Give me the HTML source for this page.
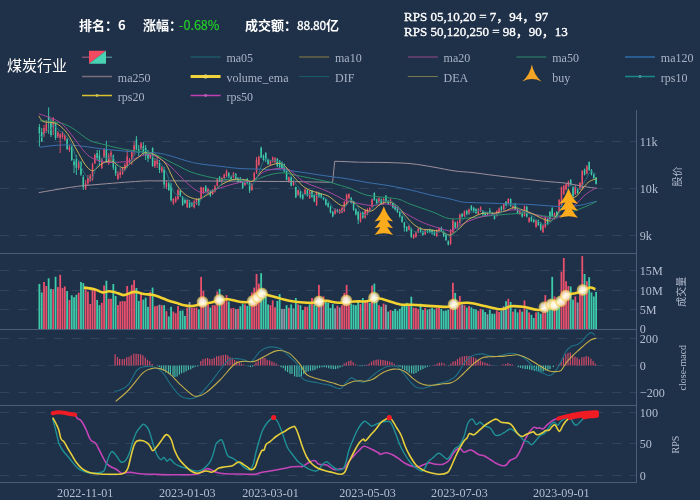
<!DOCTYPE html>
<html><head><meta charset="utf-8"><style>
html,body{margin:0;padding:0;background:#1f3049;width:700px;height:500px;overflow:hidden}
.t{position:absolute;white-space:nowrap;line-height:1;will-change:transform}
svg{will-change:transform}
.cj{font-family:"Noto Sans CJK SC",sans-serif}
.sf{font-family:"Liberation Serif","Noto Sans CJK SC",serif}
</style></head><body>
<svg width="700" height="500" viewBox="0 0 700 500" style="position:absolute;left:0;top:0">
<rect x="0" y="0" width="700" height="500" fill="#1f3049"/>
<line x1="0" y1="141.5" x2="636" y2="141.5" stroke="#30435f" stroke-width="1" stroke-dasharray="9 9"/>
<line x1="0" y1="188.5" x2="636" y2="188.5" stroke="#30435f" stroke-width="1" stroke-dasharray="9 9"/>
<line x1="0" y1="235.5" x2="636" y2="235.5" stroke="#30435f" stroke-width="1" stroke-dasharray="9 9"/>
<line x1="0" y1="270.5" x2="636" y2="270.5" stroke="#30435f" stroke-width="1" stroke-dasharray="9 9"/>
<line x1="0" y1="290.5" x2="636" y2="290.5" stroke="#30435f" stroke-width="1" stroke-dasharray="9 9"/>
<line x1="0" y1="309.5" x2="636" y2="309.5" stroke="#30435f" stroke-width="1" stroke-dasharray="9 9"/>
<line x1="0" y1="338.5" x2="636" y2="338.5" stroke="#30435f" stroke-width="1" stroke-dasharray="9 9"/>
<line x1="0" y1="365.5" x2="636" y2="365.5" stroke="#30435f" stroke-width="1" stroke-dasharray="9 9"/>
<line x1="0" y1="392.5" x2="636" y2="392.5" stroke="#30435f" stroke-width="1" stroke-dasharray="9 9"/>
<line x1="0" y1="412.5" x2="636" y2="412.5" stroke="#30435f" stroke-width="1" stroke-dasharray="9 9"/>
<line x1="0" y1="443.5" x2="636" y2="443.5" stroke="#30435f" stroke-width="1" stroke-dasharray="9 9"/>
<line x1="0" y1="475.5" x2="636" y2="475.5" stroke="#30435f" stroke-width="1" stroke-dasharray="9 9"/>
<line x1="0" y1="253.5" x2="637" y2="253.5" stroke="#4b5d79" stroke-width="1"/>
<line x1="0" y1="329.5" x2="637" y2="329.5" stroke="#4b5d79" stroke-width="1"/>
<line x1="0" y1="405.5" x2="637" y2="405.5" stroke="#4b5d79" stroke-width="1"/>
<line x1="0" y1="482.5" x2="637" y2="482.5" stroke="#4b5d79" stroke-width="1"/>
<line x1="636.5" y1="110" x2="636.5" y2="483" stroke="#4b5d79" stroke-width="1"/>

<defs><radialGradient id="glow"><stop offset="0" stop-color="#ffffff" stop-opacity="0.95"/><stop offset="0.55" stop-color="#fff6d8" stop-opacity="0.85"/><stop offset="0.85" stop-color="#f7d35a" stop-opacity="0.7"/><stop offset="1" stop-color="#f2c232" stop-opacity="0.15"/></radialGradient></defs>
<rect x="38.50" y="283.9" width="1.8" height="45.1" fill="#3ecbaa"/>
<rect x="40.81" y="292.4" width="1.8" height="36.6" fill="#3ecbaa"/>
<rect x="43.12" y="282.0" width="1.8" height="47.0" fill="#e9506c"/>
<rect x="45.43" y="286.0" width="1.8" height="43.0" fill="#e9506c"/>
<rect x="47.74" y="278.3" width="1.8" height="50.7" fill="#3ecbaa"/>
<rect x="50.05" y="288.9" width="1.8" height="40.1" fill="#3ecbaa"/>
<rect x="52.36" y="289.2" width="1.8" height="39.8" fill="#e9506c"/>
<rect x="54.67" y="276.7" width="1.8" height="52.3" fill="#3ecbaa"/>
<rect x="56.98" y="287.1" width="1.8" height="41.9" fill="#e9506c"/>
<rect x="59.29" y="274.8" width="1.8" height="54.2" fill="#e9506c"/>
<rect x="61.60" y="287.9" width="1.8" height="41.1" fill="#e9506c"/>
<rect x="63.91" y="286.5" width="1.8" height="42.5" fill="#e9506c"/>
<rect x="66.22" y="291.1" width="1.8" height="37.9" fill="#3ecbaa"/>
<rect x="68.53" y="300.1" width="1.8" height="28.9" fill="#e9506c"/>
<rect x="70.84" y="295.3" width="1.8" height="33.7" fill="#3ecbaa"/>
<rect x="73.15" y="297.2" width="1.8" height="31.8" fill="#3ecbaa"/>
<rect x="75.46" y="294.8" width="1.8" height="34.2" fill="#3ecbaa"/>
<rect x="77.77" y="292.7" width="1.8" height="36.3" fill="#e9506c"/>
<rect x="80.08" y="282.0" width="1.8" height="47.0" fill="#3ecbaa"/>
<rect x="82.39" y="283.1" width="1.8" height="45.9" fill="#3ecbaa"/>
<rect x="84.70" y="289.2" width="1.8" height="39.8" fill="#e9506c"/>
<rect x="87.01" y="291.6" width="1.8" height="37.4" fill="#e9506c"/>
<rect x="89.32" y="304.0" width="1.8" height="25.0" fill="#e9506c"/>
<rect x="91.63" y="290.0" width="1.8" height="39.0" fill="#e9506c"/>
<rect x="93.94" y="290.0" width="1.8" height="39.0" fill="#e9506c"/>
<rect x="96.25" y="300.0" width="1.8" height="29.0" fill="#3ecbaa"/>
<rect x="98.56" y="305.2" width="1.8" height="23.8" fill="#3ecbaa"/>
<rect x="100.87" y="302.8" width="1.8" height="26.2" fill="#e9506c"/>
<rect x="103.18" y="285.5" width="1.8" height="43.5" fill="#e9506c"/>
<rect x="105.49" y="280.7" width="1.8" height="48.3" fill="#3ecbaa"/>
<rect x="107.80" y="298.8" width="1.8" height="30.2" fill="#e9506c"/>
<rect x="110.11" y="298.8" width="1.8" height="30.2" fill="#e9506c"/>
<rect x="112.42" y="284.0" width="1.8" height="45.0" fill="#3ecbaa"/>
<rect x="114.73" y="296.0" width="1.8" height="33.0" fill="#3ecbaa"/>
<rect x="117.04" y="305.0" width="1.8" height="24.0" fill="#e9506c"/>
<rect x="119.35" y="301.5" width="1.8" height="27.5" fill="#e9506c"/>
<rect x="121.66" y="300.9" width="1.8" height="28.1" fill="#e9506c"/>
<rect x="123.97" y="301.2" width="1.8" height="27.8" fill="#e9506c"/>
<rect x="126.28" y="286.0" width="1.8" height="43.0" fill="#e9506c"/>
<rect x="128.59" y="293.2" width="1.8" height="35.8" fill="#e9506c"/>
<rect x="130.90" y="284.9" width="1.8" height="44.1" fill="#e9506c"/>
<rect x="133.21" y="280.1" width="1.8" height="48.9" fill="#e9506c"/>
<rect x="135.52" y="288.0" width="1.8" height="41.0" fill="#3ecbaa"/>
<rect x="137.83" y="300.9" width="1.8" height="28.1" fill="#3ecbaa"/>
<rect x="140.14" y="294.0" width="1.8" height="35.0" fill="#e9506c"/>
<rect x="142.45" y="299.6" width="1.8" height="29.4" fill="#3ecbaa"/>
<rect x="144.76" y="297.7" width="1.8" height="31.3" fill="#3ecbaa"/>
<rect x="147.07" y="306.8" width="1.8" height="22.2" fill="#3ecbaa"/>
<rect x="149.38" y="291.9" width="1.8" height="37.1" fill="#e9506c"/>
<rect x="151.69" y="287.6" width="1.8" height="41.4" fill="#3ecbaa"/>
<rect x="154.00" y="306.3" width="1.8" height="22.7" fill="#e9506c"/>
<rect x="156.31" y="305.7" width="1.8" height="23.3" fill="#e9506c"/>
<rect x="158.62" y="304.7" width="1.8" height="24.3" fill="#8e9aa8"/>
<rect x="160.93" y="305.2" width="1.8" height="23.8" fill="#e9506c"/>
<rect x="163.24" y="305.2" width="1.8" height="23.8" fill="#3ecbaa"/>
<rect x="165.55" y="311.1" width="1.8" height="17.9" fill="#e9506c"/>
<rect x="167.86" y="316.4" width="1.8" height="12.6" fill="#3ecbaa"/>
<rect x="170.17" y="306.8" width="1.8" height="22.2" fill="#3ecbaa"/>
<rect x="172.48" y="311.6" width="1.8" height="17.4" fill="#e9506c"/>
<rect x="174.79" y="313.2" width="1.8" height="15.8" fill="#e9506c"/>
<rect x="177.10" y="306.0" width="1.8" height="23.0" fill="#e9506c"/>
<rect x="179.41" y="310.8" width="1.8" height="18.2" fill="#3ecbaa"/>
<rect x="181.72" y="310.5" width="1.8" height="18.5" fill="#3ecbaa"/>
<rect x="184.03" y="315.9" width="1.8" height="13.1" fill="#3ecbaa"/>
<rect x="186.34" y="307.6" width="1.8" height="21.4" fill="#e9506c"/>
<rect x="188.65" y="302.0" width="1.8" height="27.0" fill="#8e9aa8"/>
<rect x="190.96" y="307.6" width="1.8" height="21.4" fill="#e9506c"/>
<rect x="193.27" y="307.6" width="1.8" height="21.4" fill="#e9506c"/>
<rect x="195.58" y="307.6" width="1.8" height="21.4" fill="#e9506c"/>
<rect x="197.89" y="309.5" width="1.8" height="19.5" fill="#3ecbaa"/>
<rect x="200.20" y="276.9" width="1.8" height="52.1" fill="#e9506c"/>
<rect x="202.51" y="290.8" width="1.8" height="38.2" fill="#e9506c"/>
<rect x="204.82" y="301.2" width="1.8" height="27.8" fill="#8e9aa8"/>
<rect x="207.13" y="302.8" width="1.8" height="26.2" fill="#e9506c"/>
<rect x="209.44" y="307.6" width="1.8" height="21.4" fill="#3ecbaa"/>
<rect x="211.75" y="305.2" width="1.8" height="23.8" fill="#e9506c"/>
<rect x="214.06" y="305.2" width="1.8" height="23.8" fill="#e9506c"/>
<rect x="216.37" y="291.6" width="1.8" height="37.4" fill="#e9506c"/>
<rect x="218.68" y="288.9" width="1.8" height="40.1" fill="#3ecbaa"/>
<rect x="220.99" y="302.8" width="1.8" height="26.2" fill="#e9506c"/>
<rect x="223.30" y="300.9" width="1.8" height="28.1" fill="#e9506c"/>
<rect x="225.61" y="295.1" width="1.8" height="33.9" fill="#e9506c"/>
<rect x="227.92" y="301.5" width="1.8" height="27.5" fill="#3ecbaa"/>
<rect x="230.23" y="308.4" width="1.8" height="20.6" fill="#e9506c"/>
<rect x="232.54" y="307.9" width="1.8" height="21.1" fill="#e9506c"/>
<rect x="234.85" y="309.2" width="1.8" height="19.8" fill="#8e9aa8"/>
<rect x="237.16" y="308.9" width="1.8" height="20.1" fill="#e9506c"/>
<rect x="239.47" y="306.3" width="1.8" height="22.7" fill="#3ecbaa"/>
<rect x="241.78" y="304.1" width="1.8" height="24.9" fill="#3ecbaa"/>
<rect x="244.09" y="304.4" width="1.8" height="24.6" fill="#e9506c"/>
<rect x="246.40" y="306.0" width="1.8" height="23.0" fill="#3ecbaa"/>
<rect x="248.71" y="304.4" width="1.8" height="24.6" fill="#3ecbaa"/>
<rect x="251.02" y="292.4" width="1.8" height="36.6" fill="#e9506c"/>
<rect x="253.33" y="287.6" width="1.8" height="41.4" fill="#e9506c"/>
<rect x="255.64" y="274.0" width="1.8" height="55.0" fill="#e9506c"/>
<rect x="257.95" y="283.6" width="1.8" height="45.4" fill="#e9506c"/>
<rect x="260.26" y="273.2" width="1.8" height="55.8" fill="#3ecbaa"/>
<rect x="262.57" y="296.4" width="1.8" height="32.6" fill="#3ecbaa"/>
<rect x="264.88" y="296.4" width="1.8" height="32.6" fill="#3ecbaa"/>
<rect x="267.19" y="304.4" width="1.8" height="24.6" fill="#3ecbaa"/>
<rect x="269.50" y="305.2" width="1.8" height="23.8" fill="#e9506c"/>
<rect x="271.81" y="300.4" width="1.8" height="28.6" fill="#e9506c"/>
<rect x="274.12" y="307.3" width="1.8" height="21.7" fill="#e9506c"/>
<rect x="276.43" y="300.9" width="1.8" height="28.1" fill="#3ecbaa"/>
<rect x="278.74" y="294.0" width="1.8" height="35.0" fill="#3ecbaa"/>
<rect x="281.05" y="308.9" width="1.8" height="20.1" fill="#8e9aa8"/>
<rect x="283.36" y="308.9" width="1.8" height="20.1" fill="#8e9aa8"/>
<rect x="285.67" y="305.2" width="1.8" height="23.8" fill="#3ecbaa"/>
<rect x="287.98" y="307.9" width="1.8" height="21.1" fill="#e9506c"/>
<rect x="290.29" y="304.4" width="1.8" height="24.6" fill="#3ecbaa"/>
<rect x="292.60" y="308.4" width="1.8" height="20.6" fill="#8e9aa8"/>
<rect x="294.91" y="298.0" width="1.8" height="31.0" fill="#3ecbaa"/>
<rect x="297.22" y="304.4" width="1.8" height="24.6" fill="#e9506c"/>
<rect x="299.53" y="305.2" width="1.8" height="23.8" fill="#3ecbaa"/>
<rect x="301.84" y="310.0" width="1.8" height="19.0" fill="#3ecbaa"/>
<rect x="304.15" y="306.8" width="1.8" height="22.2" fill="#e9506c"/>
<rect x="306.46" y="306.8" width="1.8" height="22.2" fill="#e9506c"/>
<rect x="308.77" y="304.4" width="1.8" height="24.6" fill="#3ecbaa"/>
<rect x="311.08" y="298.0" width="1.8" height="31.0" fill="#e9506c"/>
<rect x="313.39" y="304.4" width="1.8" height="24.6" fill="#3ecbaa"/>
<rect x="315.70" y="306.8" width="1.8" height="22.2" fill="#3ecbaa"/>
<rect x="318.01" y="284.9" width="1.8" height="44.1" fill="#e9506c"/>
<rect x="320.32" y="301.2" width="1.8" height="27.8" fill="#8e9aa8"/>
<rect x="322.63" y="296.4" width="1.8" height="32.6" fill="#e9506c"/>
<rect x="324.94" y="302.0" width="1.8" height="27.0" fill="#3ecbaa"/>
<rect x="327.25" y="302.8" width="1.8" height="26.2" fill="#3ecbaa"/>
<rect x="329.56" y="307.9" width="1.8" height="21.1" fill="#3ecbaa"/>
<rect x="331.87" y="304.1" width="1.8" height="24.9" fill="#3ecbaa"/>
<rect x="334.18" y="308.4" width="1.8" height="20.6" fill="#8e9aa8"/>
<rect x="336.49" y="305.7" width="1.8" height="23.3" fill="#e9506c"/>
<rect x="338.80" y="307.5" width="1.8" height="21.5" fill="#8e9aa8"/>
<rect x="341.11" y="305.2" width="1.8" height="23.8" fill="#e9506c"/>
<rect x="343.42" y="292.9" width="1.8" height="36.1" fill="#e9506c"/>
<rect x="345.73" y="284.9" width="1.8" height="44.1" fill="#e9506c"/>
<rect x="348.04" y="301.2" width="1.8" height="27.8" fill="#e9506c"/>
<rect x="350.35" y="303.6" width="1.8" height="25.4" fill="#3ecbaa"/>
<rect x="352.66" y="304.7" width="1.8" height="24.3" fill="#3ecbaa"/>
<rect x="354.97" y="305.2" width="1.8" height="23.8" fill="#3ecbaa"/>
<rect x="357.28" y="302.0" width="1.8" height="27.0" fill="#3ecbaa"/>
<rect x="359.59" y="304.1" width="1.8" height="24.9" fill="#e9506c"/>
<rect x="361.90" y="298.0" width="1.8" height="31.0" fill="#3ecbaa"/>
<rect x="364.21" y="302.0" width="1.8" height="27.0" fill="#e9506c"/>
<rect x="366.52" y="301.5" width="1.8" height="27.5" fill="#e9506c"/>
<rect x="368.83" y="302.8" width="1.8" height="26.2" fill="#3ecbaa"/>
<rect x="371.14" y="285.5" width="1.8" height="43.5" fill="#e9506c"/>
<rect x="373.45" y="283.6" width="1.8" height="45.4" fill="#3ecbaa"/>
<rect x="375.76" y="301.2" width="1.8" height="27.8" fill="#3ecbaa"/>
<rect x="378.07" y="305.2" width="1.8" height="23.8" fill="#e9506c"/>
<rect x="380.38" y="306.8" width="1.8" height="22.2" fill="#3ecbaa"/>
<rect x="382.69" y="303.6" width="1.8" height="25.4" fill="#e9506c"/>
<rect x="385.00" y="304.7" width="1.8" height="24.3" fill="#8e9aa8"/>
<rect x="387.31" y="311.6" width="1.8" height="17.4" fill="#3ecbaa"/>
<rect x="389.62" y="310.0" width="1.8" height="19.0" fill="#e9506c"/>
<rect x="391.93" y="310.8" width="1.8" height="18.2" fill="#3ecbaa"/>
<rect x="394.24" y="308.9" width="1.8" height="20.1" fill="#3ecbaa"/>
<rect x="396.55" y="310.8" width="1.8" height="18.2" fill="#3ecbaa"/>
<rect x="398.86" y="308.9" width="1.8" height="20.1" fill="#3ecbaa"/>
<rect x="401.17" y="306.3" width="1.8" height="22.7" fill="#3ecbaa"/>
<rect x="403.48" y="306.0" width="1.8" height="23.0" fill="#3ecbaa"/>
<rect x="405.79" y="302.8" width="1.8" height="26.2" fill="#3ecbaa"/>
<rect x="408.10" y="306.0" width="1.8" height="23.0" fill="#e9506c"/>
<rect x="410.41" y="296.7" width="1.8" height="32.3" fill="#3ecbaa"/>
<rect x="412.72" y="307.6" width="1.8" height="21.4" fill="#e9506c"/>
<rect x="415.03" y="307.9" width="1.8" height="21.1" fill="#e9506c"/>
<rect x="417.34" y="309.2" width="1.8" height="19.8" fill="#e9506c"/>
<rect x="419.65" y="303.6" width="1.8" height="25.4" fill="#3ecbaa"/>
<rect x="421.96" y="310.0" width="1.8" height="19.0" fill="#3ecbaa"/>
<rect x="424.27" y="307.9" width="1.8" height="21.1" fill="#e9506c"/>
<rect x="426.58" y="309.5" width="1.8" height="19.5" fill="#3ecbaa"/>
<rect x="428.89" y="308.9" width="1.8" height="20.1" fill="#8e9aa8"/>
<rect x="431.20" y="307.9" width="1.8" height="21.1" fill="#3ecbaa"/>
<rect x="433.51" y="309.5" width="1.8" height="19.5" fill="#3ecbaa"/>
<rect x="435.82" y="307.9" width="1.8" height="21.1" fill="#e9506c"/>
<rect x="438.13" y="307.9" width="1.8" height="21.1" fill="#e9506c"/>
<rect x="440.44" y="308.9" width="1.8" height="20.1" fill="#3ecbaa"/>
<rect x="442.75" y="310.8" width="1.8" height="18.2" fill="#3ecbaa"/>
<rect x="445.06" y="310.5" width="1.8" height="18.5" fill="#3ecbaa"/>
<rect x="447.37" y="309.5" width="1.8" height="19.5" fill="#3ecbaa"/>
<rect x="449.68" y="307.6" width="1.8" height="21.4" fill="#e9506c"/>
<rect x="451.99" y="282.8" width="1.8" height="46.2" fill="#e9506c"/>
<rect x="454.30" y="292.9" width="1.8" height="36.1" fill="#3ecbaa"/>
<rect x="456.61" y="305.2" width="1.8" height="23.8" fill="#e9506c"/>
<rect x="458.92" y="296.0" width="1.8" height="33.0" fill="#e9506c"/>
<rect x="461.23" y="304.4" width="1.8" height="24.6" fill="#8e9aa8"/>
<rect x="463.54" y="305.2" width="1.8" height="23.8" fill="#e9506c"/>
<rect x="465.85" y="307.6" width="1.8" height="21.4" fill="#3ecbaa"/>
<rect x="468.16" y="306.0" width="1.8" height="23.0" fill="#e9506c"/>
<rect x="470.47" y="307.3" width="1.8" height="21.7" fill="#3ecbaa"/>
<rect x="472.78" y="308.9" width="1.8" height="20.1" fill="#3ecbaa"/>
<rect x="475.09" y="309.5" width="1.8" height="19.5" fill="#3ecbaa"/>
<rect x="477.40" y="310.8" width="1.8" height="18.2" fill="#e9506c"/>
<rect x="479.71" y="308.9" width="1.8" height="20.1" fill="#e9506c"/>
<rect x="482.02" y="309.5" width="1.8" height="19.5" fill="#3ecbaa"/>
<rect x="484.33" y="312.1" width="1.8" height="16.9" fill="#3ecbaa"/>
<rect x="486.64" y="314.3" width="1.8" height="14.7" fill="#8e9aa8"/>
<rect x="488.95" y="310.0" width="1.8" height="19.0" fill="#3ecbaa"/>
<rect x="491.26" y="313.7" width="1.8" height="15.3" fill="#3ecbaa"/>
<rect x="493.57" y="313.7" width="1.8" height="15.3" fill="#3ecbaa"/>
<rect x="495.88" y="310.5" width="1.8" height="18.5" fill="#e9506c"/>
<rect x="498.19" y="312.1" width="1.8" height="16.9" fill="#e9506c"/>
<rect x="500.50" y="310.8" width="1.8" height="18.2" fill="#3ecbaa"/>
<rect x="502.81" y="306.3" width="1.8" height="22.7" fill="#8e9aa8"/>
<rect x="505.12" y="301.2" width="1.8" height="27.8" fill="#3ecbaa"/>
<rect x="507.43" y="298.8" width="1.8" height="30.2" fill="#e9506c"/>
<rect x="509.74" y="302.0" width="1.8" height="27.0" fill="#3ecbaa"/>
<rect x="512.05" y="311.6" width="1.8" height="17.4" fill="#e9506c"/>
<rect x="514.36" y="309.2" width="1.8" height="19.8" fill="#3ecbaa"/>
<rect x="516.67" y="312.4" width="1.8" height="16.6" fill="#3ecbaa"/>
<rect x="518.98" y="309.5" width="1.8" height="19.5" fill="#e9506c"/>
<rect x="521.29" y="311.6" width="1.8" height="17.4" fill="#3ecbaa"/>
<rect x="523.60" y="300.4" width="1.8" height="28.6" fill="#e9506c"/>
<rect x="525.91" y="309.5" width="1.8" height="19.5" fill="#3ecbaa"/>
<rect x="528.22" y="312.4" width="1.8" height="16.6" fill="#e9506c"/>
<rect x="530.53" y="314.8" width="1.8" height="14.2" fill="#3ecbaa"/>
<rect x="532.84" y="318.0" width="1.8" height="11.0" fill="#3ecbaa"/>
<rect x="535.15" y="312.4" width="1.8" height="16.6" fill="#e9506c"/>
<rect x="537.46" y="312.1" width="1.8" height="16.9" fill="#3ecbaa"/>
<rect x="539.77" y="313.7" width="1.8" height="15.3" fill="#3ecbaa"/>
<rect x="542.08" y="312.4" width="1.8" height="16.6" fill="#e9506c"/>
<rect x="544.39" y="295.1" width="1.8" height="33.9" fill="#e9506c"/>
<rect x="546.70" y="309.5" width="1.8" height="19.5" fill="#3ecbaa"/>
<rect x="549.01" y="305.2" width="1.8" height="23.8" fill="#3ecbaa"/>
<rect x="551.32" y="276.9" width="1.8" height="52.1" fill="#3ecbaa"/>
<rect x="553.63" y="296.4" width="1.8" height="32.6" fill="#e9506c"/>
<rect x="555.94" y="306.0" width="1.8" height="23.0" fill="#3ecbaa"/>
<rect x="558.25" y="302.8" width="1.8" height="26.2" fill="#3ecbaa"/>
<rect x="560.56" y="271.6" width="1.8" height="57.4" fill="#e9506c"/>
<rect x="562.87" y="258.0" width="1.8" height="71.0" fill="#e9506c"/>
<rect x="565.18" y="281.2" width="1.8" height="47.8" fill="#e9506c"/>
<rect x="567.49" y="286.0" width="1.8" height="43.0" fill="#e9506c"/>
<rect x="569.80" y="286.5" width="1.8" height="42.5" fill="#3ecbaa"/>
<rect x="572.11" y="299.6" width="1.8" height="29.4" fill="#3ecbaa"/>
<rect x="574.42" y="296.4" width="1.8" height="32.6" fill="#e9506c"/>
<rect x="576.73" y="302.5" width="1.8" height="26.5" fill="#8e9aa8"/>
<rect x="579.04" y="292.4" width="1.8" height="36.6" fill="#e9506c"/>
<rect x="581.35" y="256.1" width="1.8" height="72.9" fill="#e9506c"/>
<rect x="583.66" y="274.0" width="1.8" height="55.0" fill="#3ecbaa"/>
<rect x="585.97" y="281.2" width="1.8" height="47.8" fill="#e9506c"/>
<rect x="588.28" y="277.2" width="1.8" height="51.8" fill="#3ecbaa"/>
<rect x="590.59" y="292.4" width="1.8" height="36.6" fill="#3ecbaa"/>
<rect x="592.90" y="296.4" width="1.8" height="32.6" fill="#3ecbaa"/>
<rect x="595.21" y="291.9" width="1.8" height="37.1" fill="#3ecbaa"/>
<path d="M84.00,287.60 C85.87,287.89 91.09,288.34 94.40,289.20 C97.71,290.06 99.81,292.02 102.40,292.40 C104.99,292.78 106.78,291.37 108.80,291.30 C110.82,291.23 111.94,291.66 113.60,292.00 C115.26,292.34 116.13,292.64 118.00,293.20 C119.87,293.76 121.84,295.14 124.00,295.10 C126.16,295.06 127.98,293.58 130.00,293.00 C132.02,292.42 132.68,291.72 135.20,291.90 C137.72,292.08 140.98,293.48 144.00,294.00 C147.02,294.52 149.12,294.22 152.00,294.80 C154.88,295.38 157.12,296.19 160.00,297.20 C162.88,298.21 165.12,299.39 168.00,300.40 C170.88,301.41 173.12,301.94 176.00,302.80 C178.88,303.66 181.12,304.62 184.00,305.20 C186.88,305.78 189.12,306.14 192.00,306.00 C194.88,305.86 196.83,304.98 200.00,304.40 C203.17,303.82 206.25,303.52 209.60,302.80 C212.95,302.08 215.25,301.03 218.60,300.40 C221.95,299.77 224.17,299.01 228.20,299.30 C232.23,299.59 236.72,301.66 241.00,302.00 C245.28,302.34 248.15,302.78 252.00,301.20 C255.85,299.62 259.81,294.35 262.40,293.20 C264.99,292.05 263.95,294.08 266.40,294.80 C268.85,295.52 272.83,296.34 276.00,297.20 C279.17,298.06 281.12,298.88 284.00,299.60 C286.88,300.32 288.54,300.68 292.00,301.20 C295.46,301.72 299.46,302.21 303.20,302.50 C306.94,302.79 309.78,303.03 312.80,302.80 C315.82,302.57 317.44,301.54 320.00,301.20 C322.56,300.86 323.58,300.61 327.00,300.90 C330.42,301.19 334.14,302.69 339.00,302.80 C343.86,302.91 349.00,301.79 354.00,301.50 C359.00,301.21 363.20,301.69 366.80,301.20 C370.40,300.71 371.44,299.23 374.00,298.80 C376.56,298.37 376.28,297.79 381.00,298.80 C385.72,299.81 395.02,303.34 400.20,304.40 C405.38,305.46 405.34,304.48 409.80,304.70 C414.26,304.92 418.12,305.22 425.00,305.60 C431.88,305.98 442.42,307.07 448.00,306.80 C453.58,306.53 452.40,304.82 456.00,304.10 C459.60,303.38 463.14,302.51 468.00,302.80 C472.86,303.09 477.42,304.55 483.00,305.70 C488.58,306.85 494.97,308.71 499.00,309.20 C503.03,309.69 503.24,308.94 505.40,308.40 C507.56,307.86 507.87,306.49 511.00,306.20 C514.13,305.91 517.80,306.12 522.80,306.80 C527.80,307.48 534.77,309.86 538.80,310.00 C542.83,310.14 542.46,308.39 545.20,307.60 C547.94,306.81 551.16,307.04 554.00,305.60 C556.84,304.16 558.59,301.54 561.00,299.60 C563.41,297.66 564.81,295.95 567.40,294.80 C569.99,293.65 572.52,293.92 575.40,293.20 C578.28,292.48 580.81,291.81 583.40,290.80 C585.99,289.79 587.64,287.89 589.80,287.60 C591.96,287.31 594.39,288.91 595.40,289.20" fill="none" stroke="#f2d230" stroke-width="2.6" stroke-linejoin="round"/>
<circle cx="202.5" cy="302" r="6.2" fill="url(#glow)"/>
<circle cx="219.4" cy="300" r="6.2" fill="url(#glow)"/>
<circle cx="252.8" cy="301" r="6.2" fill="url(#glow)"/>
<circle cx="257.6" cy="297.5" r="6.2" fill="url(#glow)"/>
<circle cx="262" cy="293.5" r="6.2" fill="url(#glow)"/>
<circle cx="319" cy="301.5" r="6.2" fill="url(#glow)"/>
<circle cx="346.3" cy="300.4" r="6.2" fill="url(#glow)"/>
<circle cx="374" cy="297.7" r="6.2" fill="url(#glow)"/>
<circle cx="453.6" cy="304.4" r="6.2" fill="url(#glow)"/>
<circle cx="544.4" cy="307.3" r="6.2" fill="url(#glow)"/>
<circle cx="551.3" cy="304.4" r="6.2" fill="url(#glow)"/>
<circle cx="554.6" cy="305.2" r="6.2" fill="url(#glow)"/>
<circle cx="561" cy="301.2" r="6.2" fill="url(#glow)"/>
<circle cx="565.8" cy="295.6" r="6.2" fill="url(#glow)"/>
<circle cx="582.6" cy="290" r="6.2" fill="url(#glow)"/>
<line x1="39.40" y1="124.0" x2="39.40" y2="146.5" stroke="#3ecbaa" stroke-width="0.9"/>
<rect x="38.65" y="127.0" width="1.5" height="6.5" fill="#3ecbaa"/>
<line x1="41.71" y1="128.0" x2="41.71" y2="142.0" stroke="#3ecbaa" stroke-width="0.9"/>
<rect x="40.96" y="132.0" width="1.5" height="9.0" fill="#3ecbaa"/>
<line x1="44.02" y1="125.0" x2="44.02" y2="137.0" stroke="#e9506c" stroke-width="0.9"/>
<rect x="43.27" y="128.0" width="1.5" height="7.0" fill="#e9506c"/>
<line x1="46.33" y1="120.0" x2="46.33" y2="133.0" stroke="#e9506c" stroke-width="0.9"/>
<rect x="45.58" y="124.0" width="1.5" height="7.0" fill="#e9506c"/>
<line x1="48.64" y1="107.4" x2="48.64" y2="133.8" stroke="#3ecbaa" stroke-width="0.9"/>
<rect x="47.89" y="116.0" width="1.5" height="4.0" fill="#3ecbaa"/>
<line x1="50.95" y1="119.0" x2="50.95" y2="137.0" stroke="#3ecbaa" stroke-width="0.9"/>
<rect x="50.20" y="121.0" width="1.5" height="14.0" fill="#3ecbaa"/>
<line x1="53.26" y1="117.0" x2="53.26" y2="135.0" stroke="#e9506c" stroke-width="0.9"/>
<rect x="52.51" y="118.0" width="1.5" height="9.0" fill="#e9506c"/>
<line x1="55.57" y1="122.0" x2="55.57" y2="140.0" stroke="#3ecbaa" stroke-width="0.9"/>
<rect x="54.82" y="123.0" width="1.5" height="15.0" fill="#3ecbaa"/>
<line x1="57.88" y1="131.0" x2="57.88" y2="138.0" stroke="#e9506c" stroke-width="0.9"/>
<rect x="57.13" y="132.5" width="1.5" height="4.0" fill="#e9506c"/>
<line x1="60.19" y1="133.0" x2="60.19" y2="153.0" stroke="#e9506c" stroke-width="0.9"/>
<rect x="59.44" y="134.5" width="1.5" height="3.5" fill="#e9506c"/>
<line x1="62.50" y1="132.0" x2="62.50" y2="139.0" stroke="#e9506c" stroke-width="0.9"/>
<rect x="61.75" y="133.5" width="1.5" height="3.5" fill="#e9506c"/>
<line x1="64.81" y1="134.0" x2="64.81" y2="141.0" stroke="#e9506c" stroke-width="0.9"/>
<rect x="64.06" y="135.5" width="1.5" height="4.0" fill="#e9506c"/>
<line x1="67.12" y1="138.0" x2="67.12" y2="150.0" stroke="#3ecbaa" stroke-width="0.9"/>
<rect x="66.37" y="139.3" width="1.5" height="9.7" fill="#3ecbaa"/>
<line x1="69.43" y1="145.0" x2="69.43" y2="152.0" stroke="#e9506c" stroke-width="0.9"/>
<rect x="68.68" y="147.0" width="1.5" height="3.0" fill="#e9506c"/>
<line x1="71.74" y1="146.0" x2="71.74" y2="161.0" stroke="#3ecbaa" stroke-width="0.9"/>
<rect x="70.99" y="146.4" width="1.5" height="13.6" fill="#3ecbaa"/>
<line x1="74.05" y1="158.8" x2="74.05" y2="173.0" stroke="#3ecbaa" stroke-width="0.9"/>
<rect x="73.30" y="161.4" width="1.5" height="3.9" fill="#3ecbaa"/>
<line x1="76.36" y1="155.0" x2="76.36" y2="175.0" stroke="#3ecbaa" stroke-width="0.9"/>
<rect x="75.61" y="159.4" width="1.5" height="8.5" fill="#3ecbaa"/>
<line x1="78.67" y1="160.0" x2="78.67" y2="170.0" stroke="#e9506c" stroke-width="0.9"/>
<rect x="77.92" y="162.7" width="1.5" height="5.2" fill="#e9506c"/>
<line x1="80.98" y1="161.0" x2="80.98" y2="176.0" stroke="#3ecbaa" stroke-width="0.9"/>
<rect x="80.23" y="162.7" width="1.5" height="11.7" fill="#3ecbaa"/>
<line x1="83.29" y1="175.0" x2="83.29" y2="190.0" stroke="#3ecbaa" stroke-width="0.9"/>
<rect x="82.54" y="177.0" width="1.5" height="10.3" fill="#3ecbaa"/>
<line x1="85.60" y1="180.0" x2="85.60" y2="190.0" stroke="#e9506c" stroke-width="0.9"/>
<rect x="84.85" y="183.4" width="1.5" height="5.2" fill="#e9506c"/>
<line x1="87.91" y1="175.0" x2="87.91" y2="186.0" stroke="#e9506c" stroke-width="0.9"/>
<rect x="87.16" y="178.0" width="1.5" height="5.4" fill="#e9506c"/>
<line x1="90.22" y1="174.0" x2="90.22" y2="182.0" stroke="#e9506c" stroke-width="0.9"/>
<rect x="89.47" y="175.6" width="1.5" height="5.2" fill="#e9506c"/>
<line x1="92.53" y1="162.7" x2="92.53" y2="180.8" stroke="#e9506c" stroke-width="0.9"/>
<rect x="91.78" y="164.0" width="1.5" height="15.5" fill="#e9506c"/>
<line x1="94.84" y1="153.6" x2="94.84" y2="164.0" stroke="#e9506c" stroke-width="0.9"/>
<rect x="94.09" y="154.9" width="1.5" height="8.4" fill="#e9506c"/>
<line x1="97.15" y1="150.0" x2="97.15" y2="160.0" stroke="#3ecbaa" stroke-width="0.9"/>
<rect x="96.40" y="153.0" width="1.5" height="5.0" fill="#3ecbaa"/>
<line x1="99.46" y1="150.0" x2="99.46" y2="165.0" stroke="#3ecbaa" stroke-width="0.9"/>
<rect x="98.71" y="155.5" width="1.5" height="6.5" fill="#3ecbaa"/>
<line x1="101.77" y1="158.0" x2="101.77" y2="169.0" stroke="#e9506c" stroke-width="0.9"/>
<rect x="101.02" y="159.4" width="1.5" height="8.5" fill="#e9506c"/>
<line x1="104.08" y1="148.0" x2="104.08" y2="158.0" stroke="#e9506c" stroke-width="0.9"/>
<rect x="103.33" y="149.7" width="1.5" height="7.8" fill="#e9506c"/>
<line x1="106.39" y1="140.7" x2="106.39" y2="162.8" stroke="#3ecbaa" stroke-width="0.9"/>
<rect x="105.64" y="149.0" width="1.5" height="13.0" fill="#3ecbaa"/>
<line x1="108.70" y1="153.0" x2="108.70" y2="165.0" stroke="#e9506c" stroke-width="0.9"/>
<rect x="107.95" y="155.7" width="1.5" height="7.8" fill="#e9506c"/>
<line x1="111.01" y1="150.0" x2="111.01" y2="160.0" stroke="#e9506c" stroke-width="0.9"/>
<rect x="110.26" y="152.4" width="1.5" height="4.6" fill="#e9506c"/>
<line x1="113.32" y1="154.4" x2="113.32" y2="170.0" stroke="#3ecbaa" stroke-width="0.9"/>
<rect x="112.57" y="155.7" width="1.5" height="11.7" fill="#3ecbaa"/>
<line x1="115.63" y1="165.0" x2="115.63" y2="176.0" stroke="#3ecbaa" stroke-width="0.9"/>
<rect x="114.88" y="166.7" width="1.5" height="7.1" fill="#3ecbaa"/>
<line x1="117.94" y1="171.0" x2="117.94" y2="180.0" stroke="#e9506c" stroke-width="0.9"/>
<rect x="117.19" y="173.8" width="1.5" height="5.2" fill="#e9506c"/>
<line x1="120.25" y1="168.0" x2="120.25" y2="178.0" stroke="#e9506c" stroke-width="0.9"/>
<rect x="119.50" y="172.0" width="1.5" height="3.0" fill="#e9506c"/>
<line x1="122.56" y1="167.0" x2="122.56" y2="175.0" stroke="#e9506c" stroke-width="0.9"/>
<rect x="121.81" y="168.6" width="1.5" height="5.2" fill="#e9506c"/>
<line x1="124.87" y1="163.0" x2="124.87" y2="171.0" stroke="#e9506c" stroke-width="0.9"/>
<rect x="124.12" y="164.8" width="1.5" height="5.2" fill="#e9506c"/>
<line x1="127.18" y1="150.0" x2="127.18" y2="168.0" stroke="#e9506c" stroke-width="0.9"/>
<rect x="126.43" y="156.3" width="1.5" height="9.7" fill="#e9506c"/>
<line x1="129.49" y1="158.0" x2="129.49" y2="165.0" stroke="#e9506c" stroke-width="0.9"/>
<rect x="128.74" y="159.6" width="1.5" height="3.9" fill="#e9506c"/>
<line x1="131.80" y1="150.0" x2="131.80" y2="165.0" stroke="#e9506c" stroke-width="0.9"/>
<rect x="131.05" y="151.8" width="1.5" height="7.8" fill="#e9506c"/>
<line x1="134.11" y1="141.4" x2="134.11" y2="155.7" stroke="#e9506c" stroke-width="0.9"/>
<rect x="133.36" y="145.3" width="1.5" height="6.5" fill="#e9506c"/>
<line x1="136.42" y1="136.0" x2="136.42" y2="150.0" stroke="#3ecbaa" stroke-width="0.9"/>
<rect x="135.67" y="139.4" width="1.5" height="9.8" fill="#3ecbaa"/>
<line x1="138.73" y1="145.0" x2="138.73" y2="156.0" stroke="#3ecbaa" stroke-width="0.9"/>
<rect x="137.98" y="149.2" width="1.5" height="3.8" fill="#3ecbaa"/>
<line x1="141.04" y1="142.0" x2="141.04" y2="150.0" stroke="#e9506c" stroke-width="0.9"/>
<rect x="140.29" y="143.3" width="1.5" height="5.9" fill="#e9506c"/>
<line x1="143.35" y1="142.0" x2="143.35" y2="155.0" stroke="#3ecbaa" stroke-width="0.9"/>
<rect x="142.60" y="146.0" width="1.5" height="6.0" fill="#3ecbaa"/>
<line x1="145.66" y1="145.0" x2="145.66" y2="160.0" stroke="#3ecbaa" stroke-width="0.9"/>
<rect x="144.91" y="148.0" width="1.5" height="7.8" fill="#3ecbaa"/>
<line x1="147.97" y1="150.0" x2="147.97" y2="162.0" stroke="#3ecbaa" stroke-width="0.9"/>
<rect x="147.22" y="153.2" width="1.5" height="5.2" fill="#3ecbaa"/>
<line x1="150.28" y1="152.0" x2="150.28" y2="159.0" stroke="#e9506c" stroke-width="0.9"/>
<rect x="149.53" y="153.2" width="1.5" height="4.5" fill="#e9506c"/>
<line x1="152.59" y1="147.3" x2="152.59" y2="166.8" stroke="#3ecbaa" stroke-width="0.9"/>
<rect x="151.84" y="148.0" width="1.5" height="18.0" fill="#3ecbaa"/>
<line x1="154.90" y1="158.0" x2="154.90" y2="168.0" stroke="#e9506c" stroke-width="0.9"/>
<rect x="154.15" y="161.0" width="1.5" height="5.2" fill="#e9506c"/>
<line x1="157.21" y1="157.0" x2="157.21" y2="168.0" stroke="#e9506c" stroke-width="0.9"/>
<rect x="156.46" y="159.7" width="1.5" height="4.5" fill="#e9506c"/>
<line x1="159.52" y1="160.0" x2="159.52" y2="173.0" stroke="#3ecbaa" stroke-width="0.9"/>
<rect x="158.77" y="163.0" width="1.5" height="7.0" fill="#3ecbaa"/>
<line x1="161.83" y1="166.0" x2="161.83" y2="173.0" stroke="#e9506c" stroke-width="0.9"/>
<rect x="161.08" y="167.5" width="1.5" height="3.9" fill="#e9506c"/>
<line x1="164.14" y1="167.0" x2="164.14" y2="188.0" stroke="#3ecbaa" stroke-width="0.9"/>
<rect x="163.39" y="169.4" width="1.5" height="15.0" fill="#3ecbaa"/>
<line x1="166.45" y1="181.0" x2="166.45" y2="189.0" stroke="#e9506c" stroke-width="0.9"/>
<rect x="165.70" y="183.0" width="1.5" height="4.0" fill="#e9506c"/>
<line x1="168.76" y1="182.0" x2="168.76" y2="191.0" stroke="#3ecbaa" stroke-width="0.9"/>
<rect x="168.01" y="183.4" width="1.5" height="6.6" fill="#3ecbaa"/>
<line x1="171.07" y1="183.0" x2="171.07" y2="201.6" stroke="#3ecbaa" stroke-width="0.9"/>
<rect x="170.32" y="184.7" width="1.5" height="15.6" fill="#3ecbaa"/>
<line x1="173.38" y1="198.0" x2="173.38" y2="205.0" stroke="#e9506c" stroke-width="0.9"/>
<rect x="172.63" y="199.0" width="1.5" height="4.5" fill="#e9506c"/>
<line x1="175.69" y1="196.0" x2="175.69" y2="203.0" stroke="#e9506c" stroke-width="0.9"/>
<rect x="174.94" y="197.7" width="1.5" height="3.9" fill="#e9506c"/>
<line x1="178.00" y1="189.2" x2="178.00" y2="200.3" stroke="#e9506c" stroke-width="0.9"/>
<rect x="177.25" y="190.0" width="1.5" height="9.0" fill="#e9506c"/>
<line x1="180.31" y1="190.0" x2="180.31" y2="197.0" stroke="#3ecbaa" stroke-width="0.9"/>
<rect x="179.56" y="191.0" width="1.5" height="4.7" fill="#3ecbaa"/>
<line x1="182.62" y1="196.0" x2="182.62" y2="206.0" stroke="#3ecbaa" stroke-width="0.9"/>
<rect x="181.87" y="197.0" width="1.5" height="7.8" fill="#3ecbaa"/>
<line x1="184.93" y1="199.0" x2="184.93" y2="204.0" stroke="#3ecbaa" stroke-width="0.9"/>
<rect x="184.18" y="200.0" width="1.5" height="3.0" fill="#3ecbaa"/>
<line x1="187.24" y1="199.0" x2="187.24" y2="208.0" stroke="#e9506c" stroke-width="0.9"/>
<rect x="186.49" y="200.0" width="1.5" height="7.4" fill="#e9506c"/>
<line x1="189.55" y1="200.0" x2="189.55" y2="208.0" stroke="#3ecbaa" stroke-width="0.9"/>
<rect x="188.80" y="201.5" width="1.5" height="5.9" fill="#3ecbaa"/>
<line x1="191.86" y1="202.0" x2="191.86" y2="207.0" stroke="#3ecbaa" stroke-width="0.9"/>
<rect x="191.11" y="203.0" width="1.5" height="2.5" fill="#3ecbaa"/>
<line x1="194.17" y1="200.0" x2="194.17" y2="208.5" stroke="#e9506c" stroke-width="0.9"/>
<rect x="193.42" y="201.5" width="1.5" height="5.9" fill="#e9506c"/>
<line x1="196.48" y1="198.0" x2="196.48" y2="205.0" stroke="#e9506c" stroke-width="0.9"/>
<rect x="195.73" y="199.0" width="1.5" height="5.0" fill="#e9506c"/>
<line x1="198.79" y1="198.0" x2="198.79" y2="206.0" stroke="#3ecbaa" stroke-width="0.9"/>
<rect x="198.04" y="199.0" width="1.5" height="5.8" fill="#3ecbaa"/>
<line x1="201.10" y1="186.6" x2="201.10" y2="199.6" stroke="#e9506c" stroke-width="0.9"/>
<rect x="200.35" y="187.3" width="1.5" height="11.7" fill="#e9506c"/>
<line x1="203.41" y1="187.0" x2="203.41" y2="194.0" stroke="#e9506c" stroke-width="0.9"/>
<rect x="202.66" y="188.0" width="1.5" height="4.5" fill="#e9506c"/>
<line x1="205.72" y1="185.0" x2="205.72" y2="192.0" stroke="#3ecbaa" stroke-width="0.9"/>
<rect x="204.97" y="186.4" width="1.5" height="5.2" fill="#3ecbaa"/>
<line x1="208.03" y1="188.0" x2="208.03" y2="194.0" stroke="#e9506c" stroke-width="0.9"/>
<rect x="207.28" y="189.0" width="1.5" height="4.0" fill="#e9506c"/>
<line x1="210.34" y1="190.0" x2="210.34" y2="197.0" stroke="#3ecbaa" stroke-width="0.9"/>
<rect x="209.59" y="191.6" width="1.5" height="3.9" fill="#3ecbaa"/>
<line x1="212.65" y1="189.0" x2="212.65" y2="195.0" stroke="#e9506c" stroke-width="0.9"/>
<rect x="211.90" y="190.0" width="1.5" height="4.0" fill="#e9506c"/>
<line x1="214.96" y1="185.0" x2="214.96" y2="192.5" stroke="#e9506c" stroke-width="0.9"/>
<rect x="214.21" y="186.4" width="1.5" height="5.2" fill="#e9506c"/>
<line x1="217.27" y1="178.0" x2="217.27" y2="186.4" stroke="#e9506c" stroke-width="0.9"/>
<rect x="216.52" y="179.2" width="1.5" height="6.5" fill="#e9506c"/>
<line x1="219.58" y1="176.0" x2="219.58" y2="182.0" stroke="#3ecbaa" stroke-width="0.9"/>
<rect x="218.83" y="177.3" width="1.5" height="3.9" fill="#3ecbaa"/>
<line x1="221.89" y1="177.0" x2="221.89" y2="183.0" stroke="#e9506c" stroke-width="0.9"/>
<rect x="221.14" y="178.0" width="1.5" height="3.8" fill="#e9506c"/>
<line x1="224.20" y1="173.5" x2="224.20" y2="179.0" stroke="#e9506c" stroke-width="0.9"/>
<rect x="223.45" y="174.7" width="1.5" height="3.3" fill="#e9506c"/>
<line x1="226.51" y1="169.5" x2="226.51" y2="177.3" stroke="#e9506c" stroke-width="0.9"/>
<rect x="225.76" y="170.8" width="1.5" height="5.2" fill="#e9506c"/>
<line x1="228.82" y1="172.0" x2="228.82" y2="178.5" stroke="#3ecbaa" stroke-width="0.9"/>
<rect x="228.07" y="173.4" width="1.5" height="3.9" fill="#3ecbaa"/>
<line x1="231.13" y1="176.0" x2="231.13" y2="180.5" stroke="#3ecbaa" stroke-width="0.9"/>
<rect x="230.38" y="177.3" width="1.5" height="1.9" fill="#3ecbaa"/>
<line x1="233.44" y1="172.0" x2="233.44" y2="178.5" stroke="#e9506c" stroke-width="0.9"/>
<rect x="232.69" y="173.4" width="1.5" height="3.9" fill="#e9506c"/>
<line x1="235.75" y1="173.0" x2="235.75" y2="179.5" stroke="#3ecbaa" stroke-width="0.9"/>
<rect x="235.00" y="174.0" width="1.5" height="4.6" fill="#3ecbaa"/>
<line x1="238.06" y1="177.0" x2="238.06" y2="183.0" stroke="#3ecbaa" stroke-width="0.9"/>
<rect x="237.31" y="178.0" width="1.5" height="3.8" fill="#3ecbaa"/>
<line x1="240.37" y1="177.0" x2="240.37" y2="183.0" stroke="#3ecbaa" stroke-width="0.9"/>
<rect x="239.62" y="178.0" width="1.5" height="3.8" fill="#3ecbaa"/>
<line x1="242.68" y1="179.0" x2="242.68" y2="189.0" stroke="#3ecbaa" stroke-width="0.9"/>
<rect x="241.93" y="180.0" width="1.5" height="8.0" fill="#3ecbaa"/>
<line x1="244.99" y1="180.0" x2="244.99" y2="186.0" stroke="#e9506c" stroke-width="0.9"/>
<rect x="244.24" y="181.0" width="1.5" height="3.8" fill="#e9506c"/>
<line x1="247.30" y1="178.0" x2="247.30" y2="184.5" stroke="#3ecbaa" stroke-width="0.9"/>
<rect x="246.55" y="179.0" width="1.5" height="4.5" fill="#3ecbaa"/>
<line x1="249.61" y1="181.6" x2="249.61" y2="193.0" stroke="#3ecbaa" stroke-width="0.9"/>
<rect x="248.86" y="182.9" width="1.5" height="7.7" fill="#3ecbaa"/>
<line x1="251.92" y1="183.0" x2="251.92" y2="191.0" stroke="#e9506c" stroke-width="0.9"/>
<rect x="251.17" y="184.2" width="1.5" height="5.8" fill="#e9506c"/>
<line x1="254.23" y1="172.0" x2="254.23" y2="182.0" stroke="#e9506c" stroke-width="0.9"/>
<rect x="253.48" y="173.0" width="1.5" height="7.3" fill="#e9506c"/>
<line x1="256.54" y1="157.0" x2="256.54" y2="174.0" stroke="#e9506c" stroke-width="0.9"/>
<rect x="255.79" y="159.5" width="1.5" height="13.0" fill="#e9506c"/>
<line x1="258.85" y1="155.6" x2="258.85" y2="166.0" stroke="#e9506c" stroke-width="0.9"/>
<rect x="258.10" y="156.9" width="1.5" height="7.8" fill="#e9506c"/>
<line x1="261.16" y1="146.5" x2="261.16" y2="158.2" stroke="#3ecbaa" stroke-width="0.9"/>
<rect x="260.41" y="147.8" width="1.5" height="9.7" fill="#3ecbaa"/>
<line x1="263.47" y1="154.5" x2="263.47" y2="161.0" stroke="#3ecbaa" stroke-width="0.9"/>
<rect x="262.72" y="155.6" width="1.5" height="4.5" fill="#3ecbaa"/>
<line x1="265.78" y1="152.0" x2="265.78" y2="162.0" stroke="#3ecbaa" stroke-width="0.9"/>
<rect x="265.03" y="153.0" width="1.5" height="6.5" fill="#3ecbaa"/>
<line x1="268.09" y1="158.5" x2="268.09" y2="165.0" stroke="#3ecbaa" stroke-width="0.9"/>
<rect x="267.34" y="159.5" width="1.5" height="4.5" fill="#3ecbaa"/>
<line x1="270.40" y1="160.0" x2="270.40" y2="165.5" stroke="#e9506c" stroke-width="0.9"/>
<rect x="269.65" y="160.8" width="1.5" height="3.9" fill="#e9506c"/>
<line x1="272.71" y1="156.5" x2="272.71" y2="162.5" stroke="#e9506c" stroke-width="0.9"/>
<rect x="271.96" y="157.5" width="1.5" height="3.9" fill="#e9506c"/>
<line x1="275.02" y1="157.0" x2="275.02" y2="163.0" stroke="#e9506c" stroke-width="0.9"/>
<rect x="274.27" y="158.2" width="1.5" height="3.8" fill="#e9506c"/>
<line x1="277.33" y1="158.0" x2="277.33" y2="167.3" stroke="#3ecbaa" stroke-width="0.9"/>
<rect x="276.58" y="158.8" width="1.5" height="7.2" fill="#3ecbaa"/>
<line x1="279.64" y1="160.0" x2="279.64" y2="168.3" stroke="#3ecbaa" stroke-width="0.9"/>
<rect x="278.89" y="160.8" width="1.5" height="6.5" fill="#3ecbaa"/>
<line x1="281.95" y1="161.5" x2="281.95" y2="169.0" stroke="#3ecbaa" stroke-width="0.9"/>
<rect x="281.20" y="162.5" width="1.5" height="5.5" fill="#3ecbaa"/>
<line x1="284.26" y1="163.5" x2="284.26" y2="172.5" stroke="#3ecbaa" stroke-width="0.9"/>
<rect x="283.51" y="164.3" width="1.5" height="7.1" fill="#3ecbaa"/>
<line x1="286.57" y1="168.0" x2="286.57" y2="180.5" stroke="#3ecbaa" stroke-width="0.9"/>
<rect x="285.82" y="169.5" width="1.5" height="10.4" fill="#3ecbaa"/>
<line x1="288.88" y1="176.5" x2="288.88" y2="182.8" stroke="#e9506c" stroke-width="0.9"/>
<rect x="288.13" y="177.3" width="1.5" height="4.5" fill="#e9506c"/>
<line x1="291.19" y1="176.0" x2="291.19" y2="186.4" stroke="#3ecbaa" stroke-width="0.9"/>
<rect x="290.44" y="177.3" width="1.5" height="8.4" fill="#3ecbaa"/>
<line x1="293.50" y1="180.2" x2="293.50" y2="186.0" stroke="#e9506c" stroke-width="0.9"/>
<rect x="292.75" y="181.2" width="1.5" height="3.8" fill="#e9506c"/>
<line x1="295.81" y1="186.4" x2="295.81" y2="198.0" stroke="#3ecbaa" stroke-width="0.9"/>
<rect x="295.06" y="187.0" width="1.5" height="10.4" fill="#3ecbaa"/>
<line x1="298.12" y1="189.5" x2="298.12" y2="196.0" stroke="#e9506c" stroke-width="0.9"/>
<rect x="297.37" y="190.3" width="1.5" height="4.5" fill="#e9506c"/>
<line x1="300.43" y1="190.5" x2="300.43" y2="198.5" stroke="#3ecbaa" stroke-width="0.9"/>
<rect x="299.68" y="191.6" width="1.5" height="5.8" fill="#3ecbaa"/>
<line x1="302.74" y1="193.8" x2="302.74" y2="199.8" stroke="#3ecbaa" stroke-width="0.9"/>
<rect x="301.99" y="194.8" width="1.5" height="3.9" fill="#3ecbaa"/>
<line x1="305.05" y1="188.6" x2="305.05" y2="195.2" stroke="#e9506c" stroke-width="0.9"/>
<rect x="304.30" y="189.6" width="1.5" height="4.6" fill="#e9506c"/>
<line x1="307.36" y1="189.3" x2="307.36" y2="196.5" stroke="#3ecbaa" stroke-width="0.9"/>
<rect x="306.61" y="190.3" width="1.5" height="5.2" fill="#3ecbaa"/>
<line x1="309.67" y1="190.6" x2="309.67" y2="199.0" stroke="#e9506c" stroke-width="0.9"/>
<rect x="308.92" y="191.6" width="1.5" height="6.4" fill="#e9506c"/>
<line x1="311.98" y1="190.0" x2="311.98" y2="197.8" stroke="#3ecbaa" stroke-width="0.9"/>
<rect x="311.23" y="191.0" width="1.5" height="5.8" fill="#3ecbaa"/>
<line x1="314.29" y1="193.8" x2="314.29" y2="202.3" stroke="#3ecbaa" stroke-width="0.9"/>
<rect x="313.54" y="194.8" width="1.5" height="6.5" fill="#3ecbaa"/>
<line x1="316.60" y1="191.0" x2="316.60" y2="206.0" stroke="#e9506c" stroke-width="0.9"/>
<rect x="315.85" y="192.9" width="1.5" height="12.1" fill="#e9506c"/>
<line x1="318.91" y1="191.9" x2="318.91" y2="197.8" stroke="#3ecbaa" stroke-width="0.9"/>
<rect x="318.16" y="192.9" width="1.5" height="3.9" fill="#3ecbaa"/>
<line x1="321.22" y1="193.2" x2="321.22" y2="198.5" stroke="#3ecbaa" stroke-width="0.9"/>
<rect x="320.47" y="194.2" width="1.5" height="3.3" fill="#3ecbaa"/>
<line x1="323.53" y1="196.5" x2="323.53" y2="200.4" stroke="#3ecbaa" stroke-width="0.9"/>
<rect x="322.78" y="197.5" width="1.5" height="1.9" fill="#3ecbaa"/>
<line x1="325.84" y1="198.4" x2="325.84" y2="205.6" stroke="#3ecbaa" stroke-width="0.9"/>
<rect x="325.09" y="199.4" width="1.5" height="5.2" fill="#3ecbaa"/>
<line x1="328.15" y1="202.3" x2="328.15" y2="207.6" stroke="#3ecbaa" stroke-width="0.9"/>
<rect x="327.40" y="203.3" width="1.5" height="3.3" fill="#3ecbaa"/>
<line x1="330.46" y1="205.6" x2="330.46" y2="213.4" stroke="#3ecbaa" stroke-width="0.9"/>
<rect x="329.71" y="206.6" width="1.5" height="5.8" fill="#3ecbaa"/>
<line x1="332.77" y1="211.0" x2="332.77" y2="217.3" stroke="#3ecbaa" stroke-width="0.9"/>
<rect x="332.02" y="211.8" width="1.5" height="4.5" fill="#3ecbaa"/>
<line x1="335.08" y1="208.2" x2="335.08" y2="214.7" stroke="#e9506c" stroke-width="0.9"/>
<rect x="334.33" y="209.2" width="1.5" height="4.5" fill="#e9506c"/>
<line x1="337.39" y1="208.8" x2="337.39" y2="212.8" stroke="#8e9aa8" stroke-width="0.9"/>
<rect x="336.64" y="209.8" width="1.5" height="2.0" fill="#8e9aa8"/>
<line x1="339.70" y1="208.8" x2="339.70" y2="214.0" stroke="#e9506c" stroke-width="0.9"/>
<rect x="338.95" y="209.8" width="1.5" height="3.2" fill="#e9506c"/>
<line x1="342.01" y1="206.9" x2="342.01" y2="213.4" stroke="#e9506c" stroke-width="0.9"/>
<rect x="341.26" y="207.9" width="1.5" height="4.5" fill="#e9506c"/>
<line x1="344.32" y1="201.0" x2="344.32" y2="212.1" stroke="#e9506c" stroke-width="0.9"/>
<rect x="343.57" y="202.0" width="1.5" height="9.1" fill="#e9506c"/>
<line x1="346.63" y1="193.6" x2="346.63" y2="205.3" stroke="#e9506c" stroke-width="0.9"/>
<rect x="345.88" y="194.9" width="1.5" height="9.1" fill="#e9506c"/>
<line x1="348.94" y1="193.2" x2="348.94" y2="199.1" stroke="#e9506c" stroke-width="0.9"/>
<rect x="348.19" y="194.2" width="1.5" height="3.9" fill="#e9506c"/>
<line x1="351.25" y1="197.0" x2="351.25" y2="203.7" stroke="#3ecbaa" stroke-width="0.9"/>
<rect x="350.50" y="198.1" width="1.5" height="4.6" fill="#3ecbaa"/>
<line x1="353.56" y1="201.0" x2="353.56" y2="210.8" stroke="#3ecbaa" stroke-width="0.9"/>
<rect x="352.81" y="202.0" width="1.5" height="7.8" fill="#3ecbaa"/>
<line x1="355.87" y1="208.2" x2="355.87" y2="215.5" stroke="#3ecbaa" stroke-width="0.9"/>
<rect x="355.12" y="209.2" width="1.5" height="5.3" fill="#3ecbaa"/>
<line x1="358.18" y1="211.0" x2="358.18" y2="224.0" stroke="#3ecbaa" stroke-width="0.9"/>
<rect x="357.43" y="211.8" width="1.5" height="7.8" fill="#3ecbaa"/>
<line x1="360.49" y1="212.0" x2="360.49" y2="222.6" stroke="#e9506c" stroke-width="0.9"/>
<rect x="359.74" y="213.0" width="1.5" height="8.6" fill="#e9506c"/>
<line x1="362.80" y1="211.5" x2="362.80" y2="218.7" stroke="#3ecbaa" stroke-width="0.9"/>
<rect x="362.05" y="212.5" width="1.5" height="5.2" fill="#3ecbaa"/>
<line x1="365.11" y1="209.5" x2="365.11" y2="218.7" stroke="#e9506c" stroke-width="0.9"/>
<rect x="364.36" y="210.5" width="1.5" height="7.2" fill="#e9506c"/>
<line x1="367.42" y1="208.2" x2="367.42" y2="215.4" stroke="#e9506c" stroke-width="0.9"/>
<rect x="366.67" y="209.2" width="1.5" height="5.2" fill="#e9506c"/>
<line x1="369.73" y1="207.0" x2="369.73" y2="212.2" stroke="#e9506c" stroke-width="0.9"/>
<rect x="368.98" y="208.0" width="1.5" height="3.2" fill="#e9506c"/>
<line x1="372.04" y1="198.5" x2="372.04" y2="207.6" stroke="#e9506c" stroke-width="0.9"/>
<rect x="371.29" y="199.5" width="1.5" height="7.1" fill="#e9506c"/>
<line x1="374.35" y1="192.3" x2="374.35" y2="200.8" stroke="#3ecbaa" stroke-width="0.9"/>
<rect x="373.60" y="193.0" width="1.5" height="7.0" fill="#3ecbaa"/>
<line x1="376.66" y1="198.5" x2="376.66" y2="204.4" stroke="#3ecbaa" stroke-width="0.9"/>
<rect x="375.91" y="199.5" width="1.5" height="3.9" fill="#3ecbaa"/>
<line x1="378.97" y1="197.2" x2="378.97" y2="203.7" stroke="#e9506c" stroke-width="0.9"/>
<rect x="378.22" y="198.2" width="1.5" height="4.5" fill="#e9506c"/>
<line x1="381.28" y1="198.5" x2="381.28" y2="205.0" stroke="#3ecbaa" stroke-width="0.9"/>
<rect x="380.53" y="199.5" width="1.5" height="4.5" fill="#3ecbaa"/>
<line x1="383.59" y1="197.8" x2="383.59" y2="204.4" stroke="#e9506c" stroke-width="0.9"/>
<rect x="382.84" y="198.8" width="1.5" height="4.6" fill="#e9506c"/>
<line x1="385.90" y1="195.0" x2="385.90" y2="202.7" stroke="#3ecbaa" stroke-width="0.9"/>
<rect x="385.15" y="195.6" width="1.5" height="6.4" fill="#3ecbaa"/>
<line x1="388.21" y1="199.8" x2="388.21" y2="205.0" stroke="#3ecbaa" stroke-width="0.9"/>
<rect x="387.46" y="200.8" width="1.5" height="3.2" fill="#3ecbaa"/>
<line x1="390.52" y1="198.5" x2="390.52" y2="204.4" stroke="#e9506c" stroke-width="0.9"/>
<rect x="389.77" y="199.5" width="1.5" height="3.9" fill="#e9506c"/>
<line x1="392.83" y1="202.5" x2="392.83" y2="208.5" stroke="#3ecbaa" stroke-width="0.9"/>
<rect x="392.08" y="203.5" width="1.5" height="4.0" fill="#3ecbaa"/>
<line x1="395.14" y1="205.0" x2="395.14" y2="210.5" stroke="#3ecbaa" stroke-width="0.9"/>
<rect x="394.39" y="206.0" width="1.5" height="3.5" fill="#3ecbaa"/>
<line x1="397.45" y1="206.5" x2="397.45" y2="213.0" stroke="#3ecbaa" stroke-width="0.9"/>
<rect x="396.70" y="207.5" width="1.5" height="4.5" fill="#3ecbaa"/>
<line x1="399.76" y1="211.0" x2="399.76" y2="217.6" stroke="#3ecbaa" stroke-width="0.9"/>
<rect x="399.01" y="212.0" width="1.5" height="4.6" fill="#3ecbaa"/>
<line x1="402.07" y1="215.6" x2="402.07" y2="222.8" stroke="#3ecbaa" stroke-width="0.9"/>
<rect x="401.32" y="216.6" width="1.5" height="5.2" fill="#3ecbaa"/>
<line x1="404.38" y1="221.8" x2="404.38" y2="231.6" stroke="#3ecbaa" stroke-width="0.9"/>
<rect x="403.63" y="222.5" width="1.5" height="5.2" fill="#3ecbaa"/>
<line x1="406.69" y1="226.0" x2="406.69" y2="232.0" stroke="#3ecbaa" stroke-width="0.9"/>
<rect x="405.94" y="227.0" width="1.5" height="4.0" fill="#3ecbaa"/>
<line x1="409.00" y1="224.7" x2="409.00" y2="230.6" stroke="#e9506c" stroke-width="0.9"/>
<rect x="408.25" y="225.7" width="1.5" height="3.9" fill="#e9506c"/>
<line x1="411.31" y1="227.7" x2="411.31" y2="238.0" stroke="#3ecbaa" stroke-width="0.9"/>
<rect x="410.56" y="228.3" width="1.5" height="8.5" fill="#3ecbaa"/>
<line x1="413.62" y1="233.8" x2="413.62" y2="239.0" stroke="#e9506c" stroke-width="0.9"/>
<rect x="412.87" y="234.8" width="1.5" height="3.2" fill="#e9506c"/>
<line x1="415.93" y1="231.2" x2="415.93" y2="237.8" stroke="#e9506c" stroke-width="0.9"/>
<rect x="415.18" y="232.2" width="1.5" height="4.6" fill="#e9506c"/>
<line x1="418.24" y1="228.0" x2="418.24" y2="233.2" stroke="#e9506c" stroke-width="0.9"/>
<rect x="417.49" y="229.0" width="1.5" height="3.2" fill="#e9506c"/>
<line x1="420.55" y1="227.3" x2="420.55" y2="232.6" stroke="#3ecbaa" stroke-width="0.9"/>
<rect x="419.80" y="228.3" width="1.5" height="3.3" fill="#3ecbaa"/>
<line x1="422.86" y1="230.6" x2="422.86" y2="235.8" stroke="#3ecbaa" stroke-width="0.9"/>
<rect x="422.11" y="231.6" width="1.5" height="3.2" fill="#3ecbaa"/>
<line x1="425.17" y1="229.3" x2="425.17" y2="235.2" stroke="#e9506c" stroke-width="0.9"/>
<rect x="424.42" y="230.3" width="1.5" height="3.9" fill="#e9506c"/>
<line x1="427.48" y1="229.3" x2="427.48" y2="233.2" stroke="#3ecbaa" stroke-width="0.9"/>
<rect x="426.73" y="230.3" width="1.5" height="1.9" fill="#3ecbaa"/>
<line x1="429.79" y1="228.6" x2="429.79" y2="233.2" stroke="#3ecbaa" stroke-width="0.9"/>
<rect x="429.04" y="229.6" width="1.5" height="2.6" fill="#3ecbaa"/>
<line x1="432.10" y1="229.3" x2="432.10" y2="234.5" stroke="#3ecbaa" stroke-width="0.9"/>
<rect x="431.35" y="230.3" width="1.5" height="3.2" fill="#3ecbaa"/>
<line x1="434.41" y1="230.6" x2="434.41" y2="235.8" stroke="#3ecbaa" stroke-width="0.9"/>
<rect x="433.66" y="231.6" width="1.5" height="3.2" fill="#3ecbaa"/>
<line x1="436.72" y1="229.3" x2="436.72" y2="237.1" stroke="#e9506c" stroke-width="0.9"/>
<rect x="435.97" y="230.3" width="1.5" height="5.8" fill="#e9506c"/>
<line x1="439.03" y1="227.3" x2="439.03" y2="232.6" stroke="#e9506c" stroke-width="0.9"/>
<rect x="438.28" y="228.3" width="1.5" height="3.3" fill="#e9506c"/>
<line x1="441.34" y1="226.7" x2="441.34" y2="232.0" stroke="#3ecbaa" stroke-width="0.9"/>
<rect x="440.59" y="227.7" width="1.5" height="3.3" fill="#3ecbaa"/>
<line x1="443.65" y1="230.6" x2="443.65" y2="237.1" stroke="#3ecbaa" stroke-width="0.9"/>
<rect x="442.90" y="231.6" width="1.5" height="4.5" fill="#3ecbaa"/>
<line x1="445.96" y1="233.8" x2="445.96" y2="241.0" stroke="#3ecbaa" stroke-width="0.9"/>
<rect x="445.21" y="234.8" width="1.5" height="5.2" fill="#3ecbaa"/>
<line x1="448.27" y1="240.3" x2="448.27" y2="245.5" stroke="#3ecbaa" stroke-width="0.9"/>
<rect x="447.52" y="241.3" width="1.5" height="3.2" fill="#3ecbaa"/>
<line x1="450.58" y1="229.0" x2="450.58" y2="245.0" stroke="#e9506c" stroke-width="0.9"/>
<rect x="449.83" y="230.0" width="1.5" height="14.0" fill="#e9506c"/>
<line x1="452.89" y1="219.0" x2="452.89" y2="233.0" stroke="#e9506c" stroke-width="0.9"/>
<rect x="452.14" y="220.5" width="1.5" height="11.5" fill="#e9506c"/>
<line x1="455.20" y1="221.5" x2="455.20" y2="228.7" stroke="#3ecbaa" stroke-width="0.9"/>
<rect x="454.45" y="222.5" width="1.5" height="5.2" fill="#3ecbaa"/>
<line x1="457.51" y1="220.8" x2="457.51" y2="228.7" stroke="#e9506c" stroke-width="0.9"/>
<rect x="456.76" y="221.8" width="1.5" height="5.9" fill="#e9506c"/>
<line x1="459.82" y1="213.7" x2="459.82" y2="224.8" stroke="#e9506c" stroke-width="0.9"/>
<rect x="459.07" y="214.7" width="1.5" height="9.1" fill="#e9506c"/>
<line x1="462.13" y1="213.0" x2="462.13" y2="217.6" stroke="#3ecbaa" stroke-width="0.9"/>
<rect x="461.38" y="214.0" width="1.5" height="2.6" fill="#3ecbaa"/>
<line x1="464.44" y1="210.4" x2="464.44" y2="217.0" stroke="#e9506c" stroke-width="0.9"/>
<rect x="463.69" y="211.4" width="1.5" height="4.6" fill="#e9506c"/>
<line x1="466.75" y1="209.8" x2="466.75" y2="215.0" stroke="#3ecbaa" stroke-width="0.9"/>
<rect x="466.00" y="210.8" width="1.5" height="3.2" fill="#3ecbaa"/>
<line x1="469.06" y1="208.5" x2="469.06" y2="215.0" stroke="#e9506c" stroke-width="0.9"/>
<rect x="468.31" y="209.5" width="1.5" height="4.5" fill="#e9506c"/>
<line x1="471.37" y1="205.0" x2="471.37" y2="211.0" stroke="#3ecbaa" stroke-width="0.9"/>
<rect x="470.62" y="206.0" width="1.5" height="3.9" fill="#3ecbaa"/>
<line x1="473.68" y1="206.9" x2="473.68" y2="212.8" stroke="#3ecbaa" stroke-width="0.9"/>
<rect x="472.93" y="207.9" width="1.5" height="3.9" fill="#3ecbaa"/>
<line x1="475.99" y1="208.2" x2="475.99" y2="214.0" stroke="#3ecbaa" stroke-width="0.9"/>
<rect x="475.24" y="209.2" width="1.5" height="3.8" fill="#3ecbaa"/>
<line x1="478.30" y1="208.2" x2="478.30" y2="214.8" stroke="#e9506c" stroke-width="0.9"/>
<rect x="477.55" y="209.2" width="1.5" height="4.6" fill="#e9506c"/>
<line x1="480.61" y1="206.3" x2="480.61" y2="212.2" stroke="#e9506c" stroke-width="0.9"/>
<rect x="479.86" y="207.3" width="1.5" height="3.9" fill="#e9506c"/>
<line x1="482.92" y1="210.0" x2="482.92" y2="217.0" stroke="#3ecbaa" stroke-width="0.9"/>
<rect x="482.17" y="211.2" width="1.5" height="3.2" fill="#3ecbaa"/>
<line x1="485.23" y1="212.0" x2="485.23" y2="216.7" stroke="#3ecbaa" stroke-width="0.9"/>
<rect x="484.48" y="213.0" width="1.5" height="2.7" fill="#3ecbaa"/>
<line x1="487.54" y1="212.0" x2="487.54" y2="215.4" stroke="#8e9aa8" stroke-width="0.9"/>
<rect x="486.79" y="213.0" width="1.5" height="1.4" fill="#8e9aa8"/>
<line x1="489.85" y1="208.0" x2="489.85" y2="214.0" stroke="#3ecbaa" stroke-width="0.9"/>
<rect x="489.10" y="210.5" width="1.5" height="2.5" fill="#3ecbaa"/>
<line x1="492.16" y1="212.0" x2="492.16" y2="215.4" stroke="#3ecbaa" stroke-width="0.9"/>
<rect x="491.41" y="213.0" width="1.5" height="1.4" fill="#3ecbaa"/>
<line x1="494.47" y1="214.4" x2="494.47" y2="219.6" stroke="#3ecbaa" stroke-width="0.9"/>
<rect x="493.72" y="215.0" width="1.5" height="4.0" fill="#3ecbaa"/>
<line x1="496.78" y1="210.2" x2="496.78" y2="216.7" stroke="#e9506c" stroke-width="0.9"/>
<rect x="496.03" y="211.2" width="1.5" height="4.5" fill="#e9506c"/>
<line x1="499.09" y1="207.6" x2="499.09" y2="214.0" stroke="#e9506c" stroke-width="0.9"/>
<rect x="498.34" y="208.6" width="1.5" height="4.4" fill="#e9506c"/>
<line x1="501.40" y1="205.6" x2="501.40" y2="210.9" stroke="#3ecbaa" stroke-width="0.9"/>
<rect x="500.65" y="206.6" width="1.5" height="3.3" fill="#3ecbaa"/>
<line x1="503.71" y1="203.0" x2="503.71" y2="210.2" stroke="#e9506c" stroke-width="0.9"/>
<rect x="502.96" y="204.0" width="1.5" height="5.2" fill="#e9506c"/>
<line x1="506.02" y1="201.0" x2="506.02" y2="206.3" stroke="#3ecbaa" stroke-width="0.9"/>
<rect x="505.27" y="202.0" width="1.5" height="3.3" fill="#3ecbaa"/>
<line x1="508.33" y1="198.0" x2="508.33" y2="204.5" stroke="#e9506c" stroke-width="0.9"/>
<rect x="507.58" y="199.0" width="1.5" height="4.5" fill="#e9506c"/>
<line x1="510.64" y1="198.4" x2="510.64" y2="206.8" stroke="#3ecbaa" stroke-width="0.9"/>
<rect x="509.89" y="199.0" width="1.5" height="7.2" fill="#3ecbaa"/>
<line x1="512.95" y1="205.2" x2="512.95" y2="209.0" stroke="#e9506c" stroke-width="0.9"/>
<rect x="512.20" y="206.2" width="1.5" height="1.8" fill="#e9506c"/>
<line x1="515.26" y1="203.0" x2="515.26" y2="210.0" stroke="#3ecbaa" stroke-width="0.9"/>
<rect x="514.51" y="203.6" width="1.5" height="5.8" fill="#3ecbaa"/>
<line x1="517.57" y1="209.0" x2="517.57" y2="214.3" stroke="#3ecbaa" stroke-width="0.9"/>
<rect x="516.82" y="210.0" width="1.5" height="3.3" fill="#3ecbaa"/>
<line x1="519.88" y1="210.4" x2="519.88" y2="215.0" stroke="#e9506c" stroke-width="0.9"/>
<rect x="519.13" y="211.4" width="1.5" height="2.6" fill="#e9506c"/>
<line x1="522.19" y1="211.7" x2="522.19" y2="217.6" stroke="#3ecbaa" stroke-width="0.9"/>
<rect x="521.44" y="212.7" width="1.5" height="3.9" fill="#3ecbaa"/>
<line x1="524.50" y1="205.5" x2="524.50" y2="216.5" stroke="#e9506c" stroke-width="0.9"/>
<rect x="523.75" y="206.2" width="1.5" height="9.7" fill="#e9506c"/>
<line x1="526.81" y1="205.8" x2="526.81" y2="217.6" stroke="#3ecbaa" stroke-width="0.9"/>
<rect x="526.06" y="206.8" width="1.5" height="9.8" fill="#3ecbaa"/>
<line x1="529.12" y1="216.9" x2="529.12" y2="222.8" stroke="#e9506c" stroke-width="0.9"/>
<rect x="528.37" y="217.9" width="1.5" height="3.9" fill="#e9506c"/>
<line x1="531.43" y1="216.2" x2="531.43" y2="222.1" stroke="#3ecbaa" stroke-width="0.9"/>
<rect x="530.68" y="217.2" width="1.5" height="3.9" fill="#3ecbaa"/>
<line x1="533.74" y1="218.8" x2="533.74" y2="222.8" stroke="#3ecbaa" stroke-width="0.9"/>
<rect x="532.99" y="219.8" width="1.5" height="2.0" fill="#3ecbaa"/>
<line x1="536.05" y1="219.5" x2="536.05" y2="228.0" stroke="#e9506c" stroke-width="0.9"/>
<rect x="535.30" y="220.5" width="1.5" height="6.5" fill="#e9506c"/>
<line x1="538.36" y1="219.5" x2="538.36" y2="226.0" stroke="#3ecbaa" stroke-width="0.9"/>
<rect x="537.61" y="220.5" width="1.5" height="4.5" fill="#3ecbaa"/>
<line x1="540.67" y1="222.0" x2="540.67" y2="230.5" stroke="#3ecbaa" stroke-width="0.9"/>
<rect x="539.92" y="223.0" width="1.5" height="6.5" fill="#3ecbaa"/>
<line x1="542.98" y1="224.6" x2="542.98" y2="233.1" stroke="#e9506c" stroke-width="0.9"/>
<rect x="542.23" y="225.6" width="1.5" height="6.5" fill="#e9506c"/>
<line x1="545.29" y1="216.0" x2="545.29" y2="228.2" stroke="#e9506c" stroke-width="0.9"/>
<rect x="544.54" y="216.6" width="1.5" height="10.4" fill="#e9506c"/>
<line x1="547.60" y1="218.0" x2="547.60" y2="225.3" stroke="#3ecbaa" stroke-width="0.9"/>
<rect x="546.85" y="219.0" width="1.5" height="5.3" fill="#3ecbaa"/>
<line x1="549.91" y1="211.0" x2="549.91" y2="220.0" stroke="#3ecbaa" stroke-width="0.9"/>
<rect x="549.16" y="212.0" width="1.5" height="7.0" fill="#3ecbaa"/>
<line x1="552.22" y1="207.2" x2="552.22" y2="217.0" stroke="#3ecbaa" stroke-width="0.9"/>
<rect x="551.47" y="208.2" width="1.5" height="7.8" fill="#3ecbaa"/>
<line x1="554.53" y1="212.4" x2="554.53" y2="219.6" stroke="#e9506c" stroke-width="0.9"/>
<rect x="553.78" y="213.4" width="1.5" height="5.2" fill="#e9506c"/>
<line x1="556.84" y1="211.0" x2="556.84" y2="218.3" stroke="#3ecbaa" stroke-width="0.9"/>
<rect x="556.09" y="212.0" width="1.5" height="5.3" fill="#3ecbaa"/>
<line x1="559.15" y1="199.0" x2="559.15" y2="213.0" stroke="#e9506c" stroke-width="0.9"/>
<rect x="558.40" y="200.0" width="1.5" height="12.0" fill="#e9506c"/>
<line x1="561.46" y1="186.5" x2="561.46" y2="206.0" stroke="#e9506c" stroke-width="0.9"/>
<rect x="560.71" y="187.5" width="1.5" height="17.5" fill="#e9506c"/>
<line x1="563.77" y1="185.0" x2="563.77" y2="195.0" stroke="#e9506c" stroke-width="0.9"/>
<rect x="563.02" y="186.0" width="1.5" height="8.0" fill="#e9506c"/>
<line x1="566.08" y1="183.2" x2="566.08" y2="190.4" stroke="#e9506c" stroke-width="0.9"/>
<rect x="565.33" y="184.2" width="1.5" height="5.2" fill="#e9506c"/>
<line x1="568.39" y1="180.6" x2="568.39" y2="187.2" stroke="#e9506c" stroke-width="0.9"/>
<rect x="567.64" y="181.6" width="1.5" height="4.6" fill="#e9506c"/>
<line x1="570.70" y1="179.0" x2="570.70" y2="186.0" stroke="#3ecbaa" stroke-width="0.9"/>
<rect x="569.95" y="180.0" width="1.5" height="5.0" fill="#3ecbaa"/>
<line x1="573.01" y1="186.5" x2="573.01" y2="197.0" stroke="#3ecbaa" stroke-width="0.9"/>
<rect x="572.26" y="187.5" width="1.5" height="8.5" fill="#3ecbaa"/>
<line x1="575.32" y1="185.0" x2="575.32" y2="195.0" stroke="#e9506c" stroke-width="0.9"/>
<rect x="574.57" y="186.0" width="1.5" height="8.0" fill="#e9506c"/>
<line x1="577.63" y1="188.5" x2="577.63" y2="194.0" stroke="#3ecbaa" stroke-width="0.9"/>
<rect x="576.88" y="189.5" width="1.5" height="3.5" fill="#3ecbaa"/>
<line x1="579.94" y1="182.0" x2="579.94" y2="190.0" stroke="#e9506c" stroke-width="0.9"/>
<rect x="579.19" y="183.0" width="1.5" height="6.0" fill="#e9506c"/>
<line x1="582.25" y1="170.0" x2="582.25" y2="190.0" stroke="#e9506c" stroke-width="0.9"/>
<rect x="581.50" y="171.0" width="1.5" height="17.0" fill="#e9506c"/>
<line x1="584.56" y1="168.5" x2="584.56" y2="175.5" stroke="#3ecbaa" stroke-width="0.9"/>
<rect x="583.81" y="169.5" width="1.5" height="5.0" fill="#3ecbaa"/>
<line x1="586.87" y1="165.0" x2="586.87" y2="174.5" stroke="#e9506c" stroke-width="0.9"/>
<rect x="586.12" y="166.5" width="1.5" height="7.0" fill="#e9506c"/>
<line x1="589.18" y1="161.5" x2="589.18" y2="171.0" stroke="#3ecbaa" stroke-width="0.9"/>
<rect x="588.43" y="162.0" width="1.5" height="8.0" fill="#3ecbaa"/>
<line x1="591.49" y1="169.0" x2="591.49" y2="175.5" stroke="#3ecbaa" stroke-width="0.9"/>
<rect x="590.74" y="170.0" width="1.5" height="4.5" fill="#3ecbaa"/>
<line x1="593.80" y1="173.5" x2="593.80" y2="179.0" stroke="#3ecbaa" stroke-width="0.9"/>
<rect x="593.05" y="174.5" width="1.5" height="3.5" fill="#3ecbaa"/>
<line x1="596.11" y1="177.0" x2="596.11" y2="184.5" stroke="#3ecbaa" stroke-width="0.9"/>
<rect x="595.36" y="177.5" width="1.5" height="6.5" fill="#3ecbaa"/>
<path d="M38.80,192.60 C45.14,191.56 63.70,188.24 74.00,186.80 C84.30,185.36 84.12,185.61 96.00,184.60 C107.88,183.59 129.02,181.87 140.00,181.20 C150.98,180.53 149.80,180.95 157.00,180.90 C164.20,180.85 172.08,180.88 180.00,180.90 C187.92,180.92 193.26,180.96 201.00,181.00 C208.74,181.04 215.98,181.06 223.00,181.10 C230.02,181.14 232.98,181.15 240.00,181.20 C247.02,181.25 254.08,181.35 262.00,181.40 C269.92,181.45 276.08,181.43 284.00,181.50 C291.92,181.57 297.25,181.64 306.00,181.80 C314.75,181.96 324.62,182.22 332.60,182.40 L334.70,161.30 C337.79,161.39 341.17,161.46 345.00,161.60 C348.83,161.74 352.04,161.97 356.00,162.10 C359.96,162.23 361.06,162.21 367.00,162.30 C372.94,162.39 381.08,162.35 389.00,162.60 C396.92,162.85 403.08,162.91 411.00,163.70 C418.92,164.49 425.08,165.69 433.00,167.00 C440.92,168.31 447.98,170.01 455.00,171.00 C462.02,171.99 464.98,171.71 472.00,172.50 C479.02,173.29 486.08,174.41 494.00,175.40 C501.92,176.39 508.08,177.06 516.00,178.00 C523.92,178.94 532.24,179.95 538.00,180.60 C543.76,181.25 542.96,181.13 548.00,181.60 C553.04,182.07 559.52,182.32 566.00,183.20 C572.48,184.08 578.47,185.58 584.00,186.50 C589.53,187.42 594.41,187.98 596.70,188.30" fill="none" stroke="#9c909a" stroke-width="1.0" stroke-linejoin="round"/>
<path d="M39.90,147.20 C42.08,146.93 47.84,146.10 52.00,145.70 C56.16,145.30 59.04,145.07 63.00,145.00 C66.96,144.93 69.64,144.98 74.00,145.30 C78.36,145.62 82.05,146.13 87.20,146.80 C92.35,147.47 97.06,148.33 102.60,149.00 C108.14,149.67 112.17,149.98 118.00,150.50 C123.83,151.02 127.98,151.45 135.00,151.90 C142.02,152.35 151.06,152.41 157.00,153.00 C162.94,153.59 164.04,154.21 168.00,155.20 C171.96,156.19 175.04,157.31 179.00,158.50 C182.96,159.69 186.04,160.81 190.00,161.80 C193.96,162.79 195.06,163.14 201.00,164.00 C206.94,164.86 215.98,165.79 223.00,166.60 C230.02,167.41 232.98,168.03 240.00,168.50 C247.02,168.97 254.08,168.93 262.00,169.20 C269.92,169.47 276.08,169.33 284.00,170.00 C291.92,170.67 298.08,171.78 306.00,172.90 C313.92,174.02 320.98,175.21 328.00,176.20 C335.02,177.19 337.98,177.28 345.00,178.40 C352.02,179.52 359.08,181.09 367.00,182.40 C374.92,183.71 381.08,184.31 389.00,185.70 C396.92,187.09 403.08,188.32 411.00,190.10 C418.92,191.88 425.98,194.02 433.00,195.60 C440.02,197.18 444.96,197.78 450.00,198.90 C455.04,200.02 457.04,201.13 461.00,201.80 C464.96,202.47 466.06,202.33 472.00,202.60 C477.94,202.87 486.08,203.05 494.00,203.30 C501.92,203.55 509.52,203.78 516.00,204.00 C522.48,204.22 524.24,204.18 530.00,204.50 C535.76,204.82 541.52,205.40 548.00,205.80 C554.48,206.20 560.15,206.81 566.00,206.70 C571.85,206.59 576.27,205.87 580.50,205.20 C584.73,204.53 586.58,203.70 589.50,203.00 C592.42,202.30 595.40,201.61 596.70,201.30" fill="none" stroke="#3a70ac" stroke-width="1.0" stroke-linejoin="round"/>
<path d="M40.00,120.80 C42.16,120.93 47.86,120.98 52.00,121.50 C56.14,122.02 59.04,122.31 63.00,123.70 C66.96,125.09 69.25,126.23 74.00,129.20 C78.75,132.17 84.25,137.50 89.40,140.20 C94.55,142.90 97.45,142.80 102.60,144.20 C107.75,145.60 113.25,146.96 118.00,148.00 C122.75,149.04 125.04,149.37 129.00,150.00 C132.96,150.63 136.94,151.03 140.00,151.50 C143.06,151.97 142.94,151.93 146.00,152.60 C149.06,153.27 153.04,153.74 157.00,155.20 C160.96,156.66 164.04,158.72 168.00,160.70 C171.96,162.68 175.04,164.22 179.00,166.20 C182.96,168.18 186.04,170.12 190.00,171.70 C193.96,173.28 197.04,173.94 201.00,175.00 C204.96,176.06 208.04,176.81 212.00,177.60 C215.96,178.39 219.04,179.04 223.00,179.40 C226.96,179.76 230.04,179.40 234.00,179.60 C237.96,179.80 241.54,180.25 245.00,180.50 C248.46,180.75 250.14,181.58 253.20,181.00 C256.26,180.42 258.44,178.56 262.00,177.30 C265.56,176.04 269.04,174.79 273.00,174.00 C276.96,173.21 280.04,172.70 284.00,172.90 C287.96,173.10 291.04,174.31 295.00,175.10 C298.96,175.89 302.04,176.51 306.00,177.30 C309.96,178.09 313.04,178.71 317.00,179.50 C320.96,180.29 324.04,180.71 328.00,181.70 C331.96,182.69 335.04,183.81 339.00,185.00 C342.96,186.19 344.96,186.46 350.00,188.30 C355.04,190.14 359.98,193.49 367.00,195.20 C374.02,196.91 383.06,197.01 389.00,197.80 C394.94,198.59 396.04,198.41 400.00,199.60 C403.96,200.79 405.06,202.15 411.00,204.40 C416.94,206.65 425.98,209.53 433.00,212.10 C440.02,214.67 442.98,217.71 450.00,218.70 C457.02,219.69 464.08,218.19 472.00,217.60 C479.92,217.01 486.08,216.12 494.00,215.40 C501.92,214.68 510.06,214.00 516.00,213.60 C521.94,213.20 523.04,212.95 527.00,213.20 C530.96,213.45 534.04,214.41 538.00,215.00 C541.96,215.59 545.04,216.36 549.00,216.50 C552.96,216.64 556.94,216.27 560.00,215.80 C563.06,215.33 562.65,215.05 566.00,213.90 C569.35,212.75 574.37,211.02 578.60,209.40 C582.83,207.78 586.24,206.36 589.50,204.90 C592.76,203.44 595.40,201.95 596.70,201.30" fill="none" stroke="#2a9068" stroke-width="1.0" stroke-linejoin="round"/>
<path d="M38.80,113.80 C39.99,114.20 42.63,115.01 45.40,116.00 C48.17,116.99 51.03,117.72 54.20,119.30 C57.37,120.88 59.44,121.43 63.00,124.80 C66.56,128.17 70.04,133.05 74.00,138.00 C77.96,142.95 81.44,148.54 85.00,152.30 C88.56,156.06 89.84,157.12 93.80,158.90 C97.76,160.68 102.64,161.61 107.00,162.20 C111.36,162.79 114.04,162.40 118.00,162.20 C121.96,162.00 125.94,161.77 129.00,161.10 C132.06,160.43 132.34,159.56 135.00,158.50 C137.66,157.44 140.63,155.79 143.80,155.20 C146.97,154.61 149.43,154.41 152.60,155.20 C155.77,155.99 158.23,157.62 161.40,159.60 C164.57,161.58 167.03,163.43 170.20,166.20 C173.37,168.97 175.83,171.83 179.00,175.00 C182.17,178.17 184.63,181.03 187.80,183.80 C190.97,186.57 193.83,188.82 196.60,190.40 C199.37,191.98 200.43,192.60 203.20,192.60 C205.97,192.60 208.44,191.39 212.00,190.40 C215.56,189.41 219.04,188.29 223.00,187.10 C226.96,185.91 230.04,184.79 234.00,183.80 C237.96,182.81 241.54,182.10 245.00,181.60 C248.46,181.10 250.14,182.57 253.20,181.00 C256.26,179.43 258.44,175.02 262.00,172.90 C265.56,170.78 269.04,169.99 273.00,169.20 C276.96,168.41 280.83,168.23 284.00,168.50 C287.17,168.77 287.83,168.92 290.60,170.70 C293.37,172.48 296.63,176.22 299.40,178.40 C302.17,180.58 302.83,181.22 306.00,182.80 C309.17,184.38 313.04,185.62 317.00,187.20 C320.96,188.78 324.04,189.82 328.00,191.60 C331.96,193.38 335.83,195.52 339.00,197.10 C342.17,198.68 342.14,199.28 345.60,200.40 C349.06,201.52 353.56,202.38 358.20,203.30 C362.84,204.22 366.65,205.37 371.40,205.50 C376.15,205.63 381.25,204.14 384.60,204.00 C387.95,203.86 388.02,204.16 390.00,204.70 C391.98,205.24 393.55,205.87 395.60,207.00 C397.65,208.13 398.29,209.11 401.40,211.00 C404.51,212.89 408.78,215.30 412.90,217.50 C417.02,219.70 420.20,221.49 424.30,223.20 C428.40,224.91 431.61,225.70 435.70,227.00 C439.79,228.30 444.07,229.75 447.00,230.40 C449.93,231.05 449.48,231.57 452.00,230.60 C454.52,229.63 457.40,226.94 461.00,225.00 C464.60,223.06 468.04,221.33 472.00,219.80 C475.96,218.27 479.04,217.49 483.00,216.50 C486.96,215.51 490.04,215.29 494.00,214.30 C497.96,213.31 501.04,211.79 505.00,211.00 C508.96,210.21 512.04,209.70 516.00,209.90 C519.96,210.10 523.04,211.11 527.00,212.10 C530.96,213.09 534.04,214.30 538.00,215.40 C541.96,216.50 545.58,217.82 549.00,218.20 C552.42,218.58 553.94,218.60 557.00,217.50 C560.06,216.40 562.76,214.37 566.00,212.10 C569.24,209.83 571.76,207.82 575.00,204.90 C578.24,201.98 581.07,198.49 584.00,195.90 C586.93,193.31 589.01,191.98 591.30,190.50 C593.59,189.02 595.73,188.20 596.70,187.70" fill="none" stroke="#a8479e" stroke-width="1.0" stroke-linejoin="round"/>
<path d="M38.80,116.00 C39.59,116.99 40.82,120.31 43.20,121.50 C45.58,122.69 49.23,122.01 52.00,122.60 C54.77,123.19 55.83,122.82 58.60,124.80 C61.37,126.78 64.23,129.24 67.40,133.60 C70.57,137.96 73.03,143.46 76.20,149.00 C79.37,154.54 82.23,160.51 85.00,164.40 C87.77,168.29 89.62,169.81 91.60,170.60 C93.58,171.39 94.02,170.11 96.00,168.80 C97.98,167.49 99.83,164.69 102.60,163.30 C105.37,161.91 108.63,160.70 111.40,161.10 C114.17,161.50 115.62,164.31 118.00,165.50 C120.38,166.69 121.83,168.49 124.60,167.70 C127.37,166.91 130.63,163.21 133.40,161.10 C136.17,158.99 138.13,157.46 140.00,156.00 C141.87,154.54 141.93,153.54 143.80,153.00 C145.67,152.46 148.02,152.41 150.40,153.00 C152.78,153.59 154.23,154.32 157.00,156.30 C159.77,158.28 163.03,160.24 165.80,164.00 C168.57,167.76 170.02,172.84 172.40,177.20 C174.78,181.56 176.62,185.03 179.00,188.20 C181.38,191.37 183.22,193.02 185.60,194.80 C187.98,196.58 189.82,197.31 192.20,198.10 C194.58,198.89 196.42,199.60 198.80,199.20 C201.18,198.80 202.63,197.48 205.40,195.90 C208.17,194.32 211.03,192.58 214.20,190.40 C217.37,188.22 219.44,185.78 223.00,183.80 C226.56,181.82 230.04,180.12 234.00,179.40 C237.96,178.68 241.54,179.51 245.00,179.80 C248.46,180.09 250.14,182.64 253.20,181.00 C256.26,179.36 259.23,173.35 262.00,170.70 C264.77,168.05 265.83,167.61 268.60,166.30 C271.37,164.99 274.63,163.60 277.40,163.40 C280.17,163.20 281.62,163.49 284.00,165.20 C286.38,166.91 288.22,170.13 290.60,172.90 C292.98,175.67 294.43,177.83 297.20,180.60 C299.97,183.37 302.44,186.12 306.00,188.30 C309.56,190.48 313.04,191.31 317.00,192.70 C320.96,194.09 324.44,194.22 328.00,196.00 C331.56,197.78 334.03,200.82 336.80,202.60 C339.57,204.38 341.02,206.19 343.40,205.90 C345.78,205.61 348.13,201.59 350.00,201.00 C351.87,200.41 351.53,201.20 353.80,202.60 C356.07,204.00 359.43,207.29 362.60,208.80 C365.77,210.31 368.23,211.79 371.40,211.00 C374.57,210.21 377.03,206.06 380.20,204.40 C383.37,202.74 385.83,201.42 389.00,201.80 C392.17,202.18 395.10,204.30 397.80,206.50 C400.50,208.70 401.28,210.92 404.00,214.00 C406.72,217.08 409.86,220.95 412.90,223.60 C415.94,226.25 417.82,227.57 420.90,228.70 C423.98,229.83 426.31,229.38 430.00,229.90 C433.69,230.42 437.91,230.65 441.40,231.60 C444.89,232.55 447.13,235.00 449.40,235.20 C451.67,235.40 451.93,234.18 454.00,232.70 C456.07,231.22 458.74,229.02 460.90,227.00 C463.06,224.98 464.00,223.19 466.00,221.50 C468.00,219.81 468.94,219.09 472.00,217.60 C475.06,216.11 479.04,213.99 483.00,213.20 C486.96,212.41 490.04,213.60 494.00,213.20 C497.96,212.80 501.44,211.99 505.00,211.00 C508.56,210.01 510.63,207.90 513.80,207.70 C516.97,207.50 519.43,208.91 522.60,209.90 C525.77,210.89 528.23,211.81 531.40,213.20 C534.57,214.59 537.03,216.21 540.20,217.60 C543.37,218.99 546.70,220.59 549.00,220.90 C551.30,221.21 550.91,221.21 553.00,219.30 C555.09,217.39 557.61,213.86 560.60,210.30 C563.59,206.74 566.68,202.09 569.60,199.50 C572.52,196.91 574.21,198.19 576.80,195.90 C579.39,193.61 581.71,189.41 584.00,186.80 C586.29,184.19 587.21,182.86 589.50,181.40 C591.79,179.94 595.40,179.19 596.70,178.70" fill="none" stroke="#c9b35a" stroke-width="1.0" stroke-linejoin="round"/>
<path d="M39.40,133.50 C39.82,134.18 40.88,137.13 41.71,137.25 C42.54,137.37 43.19,135.18 44.02,134.17 C44.85,133.15 45.50,132.50 46.33,131.62 C47.16,130.75 47.81,129.66 48.64,129.30 C49.47,128.94 50.12,130.37 50.95,129.60 C51.78,128.83 52.43,125.47 53.26,125.00 C54.09,124.53 54.74,126.33 55.57,127.00 C56.40,127.67 57.05,127.87 57.88,128.70 C58.71,129.53 59.36,131.13 60.19,131.60 C61.02,132.07 61.67,130.72 62.50,131.30 C63.33,131.88 63.98,133.77 64.81,134.80 C65.64,135.83 66.29,136.08 67.12,137.00 C67.95,137.92 68.60,138.46 69.43,139.90 C70.26,141.34 70.91,142.94 71.74,145.00 C72.57,147.06 73.22,149.05 74.05,151.36 C74.88,153.67 75.53,156.18 76.36,157.84 C77.19,159.50 77.84,159.10 78.67,160.58 C79.50,162.06 80.15,164.09 80.98,166.06 C81.81,168.03 82.46,169.89 83.29,171.52 C84.12,173.15 84.77,174.12 85.60,175.14 C86.43,176.16 87.08,176.33 87.91,177.16 C88.74,177.99 89.39,179.65 90.22,179.74 C91.05,179.83 91.70,179.20 92.53,177.66 C93.36,176.12 94.01,173.26 94.84,171.18 C95.67,169.10 96.32,167.59 97.15,166.10 C97.98,164.61 98.63,164.06 99.46,162.90 C100.29,161.74 100.94,160.76 101.77,159.66 C102.60,158.56 103.25,157.06 104.08,156.80 C104.91,156.54 105.56,158.05 106.39,158.22 C107.22,158.39 107.87,158.19 108.70,157.76 C109.53,157.33 110.18,155.90 111.01,155.84 C111.84,155.78 112.49,156.28 113.32,157.44 C114.15,158.60 114.80,160.97 115.63,162.26 C116.46,163.55 117.11,163.61 117.94,164.62 C118.77,165.63 119.42,166.71 120.25,167.88 C121.08,169.05 121.73,170.63 122.56,171.12 C123.39,171.61 124.04,171.32 124.87,170.60 C125.70,169.88 126.35,168.24 127.18,167.10 C128.01,165.96 128.66,165.50 129.49,164.26 C130.32,163.02 130.97,161.79 131.80,160.22 C132.63,158.65 133.28,156.96 134.11,155.56 C134.94,154.16 135.59,153.12 136.42,152.44 C137.25,151.76 137.90,152.49 138.73,151.78 C139.56,151.07 140.21,149.10 141.04,148.52 C141.87,147.94 142.52,148.17 143.35,148.56 C144.18,148.95 144.83,149.95 145.66,150.66 C146.49,151.37 147.14,152.16 147.97,152.50 C148.80,152.84 149.45,151.72 150.28,152.54 C151.11,153.36 151.76,155.94 152.59,157.08 C153.42,158.22 154.07,158.42 154.90,158.88 C155.73,159.34 156.38,159.10 157.21,159.66 C158.04,160.22 158.69,161.05 159.52,161.98 C160.35,162.91 161.00,163.66 161.83,164.84 C162.66,166.02 163.31,167.07 164.14,168.52 C164.97,169.97 165.62,171.04 166.45,172.92 C167.28,174.80 167.93,176.80 168.76,178.98 C169.59,181.16 170.24,182.82 171.07,185.04 C171.90,187.26 172.55,189.73 173.38,191.34 C174.21,192.95 174.86,193.27 175.69,194.00 C176.52,194.73 177.17,194.94 178.00,195.40 C178.83,195.86 179.48,196.17 180.31,196.54 C181.14,196.91 181.79,197.13 182.62,197.44 C183.45,197.75 184.10,198.01 184.93,198.24 C185.76,198.47 186.41,197.99 187.24,198.70 C188.07,199.41 188.72,201.20 189.55,202.18 C190.38,203.16 191.03,203.91 191.86,204.14 C192.69,204.37 193.34,203.74 194.17,203.48 C195.00,203.22 195.65,202.65 196.48,202.68 C197.31,202.71 197.96,204.19 198.79,203.64 C199.62,203.09 200.27,200.97 201.10,199.62 C201.93,198.27 202.58,197.11 203.41,196.12 C204.24,195.13 204.89,194.86 205.72,194.14 C206.55,193.42 207.20,192.83 208.03,192.14 C208.86,191.45 209.51,190.52 210.34,190.28 C211.17,190.04 211.82,190.78 212.65,190.82 C213.48,190.86 214.13,191.00 214.96,190.50 C215.79,190.00 216.44,188.75 217.27,188.02 C218.10,187.29 218.75,187.37 219.58,186.46 C220.41,185.55 221.06,184.14 221.89,182.96 C222.72,181.78 223.37,181.01 224.20,179.90 C225.03,178.79 225.68,177.41 226.51,176.78 C227.34,176.15 227.99,176.54 228.82,176.40 C229.65,176.26 230.30,176.24 231.13,176.00 C231.96,175.76 232.61,175.11 233.44,175.08 C234.27,175.05 234.92,175.32 235.75,175.86 C236.58,176.40 237.23,177.50 238.06,178.06 C238.89,178.62 239.54,178.48 240.37,178.96 C241.20,179.44 241.85,180.13 242.68,180.72 C243.51,181.31 244.16,181.79 244.99,182.24 C245.82,182.69 246.47,182.73 247.30,183.22 C248.13,183.71 248.78,184.58 249.61,184.98 C250.44,185.38 251.09,185.91 251.92,185.46 C252.75,185.01 253.40,183.77 254.23,182.46 C255.06,181.15 255.71,179.89 256.54,178.16 C257.37,176.43 258.02,174.99 258.85,172.84 C259.68,170.69 260.33,168.28 261.16,166.22 C261.99,164.16 262.64,162.75 263.47,161.40 C264.30,160.05 264.95,159.02 265.78,158.70 C266.61,158.38 267.26,159.30 268.09,159.60 C268.92,159.90 269.57,160.24 270.40,160.38 C271.23,160.52 271.88,160.45 272.71,160.38 C273.54,160.31 274.19,159.83 275.02,160.00 C275.85,160.17 276.50,160.95 277.33,161.30 C278.16,161.65 278.81,161.58 279.64,161.96 C280.47,162.34 281.12,162.64 281.95,163.40 C282.78,164.16 283.43,164.90 284.26,166.18 C285.09,167.46 285.74,169.33 286.57,170.52 C287.40,171.71 288.05,171.71 288.88,172.78 C289.71,173.85 290.36,175.32 291.19,176.46 C292.02,177.60 292.67,177.69 293.50,179.10 C294.33,180.51 294.98,182.99 295.81,184.30 C296.64,185.61 297.29,185.28 298.12,186.38 C298.95,187.48 299.60,189.21 300.43,190.40 C301.26,191.59 301.91,192.23 302.74,193.00 C303.57,193.77 304.22,194.45 305.05,194.68 C305.88,194.91 306.53,194.32 307.36,194.30 C308.19,194.28 308.84,194.53 309.67,194.56 C310.50,194.59 311.15,194.37 311.98,194.44 C312.81,194.51 313.46,194.75 314.29,194.96 C315.12,195.17 315.77,195.45 316.60,195.62 C317.43,195.79 318.08,195.62 318.91,195.88 C319.74,196.14 320.39,196.75 321.22,197.06 C322.05,197.37 322.70,197.37 323.53,197.58 C324.36,197.79 325.01,197.63 325.84,198.24 C326.67,198.85 327.32,199.93 328.15,200.98 C328.98,202.03 329.63,202.86 330.46,204.10 C331.29,205.34 331.94,206.83 332.77,207.86 C333.60,208.89 334.25,209.21 335.08,209.82 C335.91,210.43 336.56,210.89 337.39,211.26 C338.22,211.63 338.87,211.95 339.70,211.90 C340.53,211.85 341.18,211.68 342.01,211.00 C342.84,210.32 343.49,209.17 344.32,208.14 C345.15,207.11 345.80,206.43 346.63,205.28 C347.46,204.13 348.11,202.65 348.94,201.76 C349.77,200.87 350.42,200.53 351.25,200.34 C352.08,200.15 352.73,200.20 353.56,200.72 C354.39,201.24 355.04,201.88 355.87,203.22 C356.70,204.56 357.35,206.59 358.18,208.16 C359.01,209.73 359.66,210.70 360.49,211.92 C361.32,213.14 361.97,214.35 362.80,214.92 C363.63,215.49 364.28,215.23 365.11,215.06 C365.94,214.89 366.59,214.61 367.42,214.00 C368.25,213.39 368.90,212.58 369.73,211.68 C370.56,210.78 371.21,210.10 372.04,208.98 C372.87,207.86 373.52,206.33 374.35,205.44 C375.18,204.55 375.83,204.67 376.66,204.02 C377.49,203.37 378.14,202.36 378.97,201.82 C379.80,201.28 380.45,201.19 381.28,201.02 C382.11,200.85 382.76,200.83 383.59,200.88 C384.42,200.93 385.07,201.19 385.90,201.28 C386.73,201.37 387.38,201.33 388.21,201.40 C389.04,201.47 389.69,201.49 390.52,201.66 C391.35,201.83 392.00,201.85 392.83,202.36 C393.66,202.87 394.31,203.75 395.14,204.50 C395.97,205.25 396.62,205.69 397.45,206.50 C398.28,207.31 398.93,207.76 399.76,209.02 C400.59,210.28 401.24,211.95 402.07,213.48 C402.90,215.01 403.55,216.02 404.38,217.52 C405.21,219.02 405.86,220.55 406.69,221.82 C407.52,223.09 408.17,223.34 409.00,224.56 C409.83,225.78 410.48,227.40 411.31,228.60 C412.14,229.80 412.79,230.57 413.62,231.20 C414.45,231.83 415.10,232.01 415.93,232.10 C416.76,232.19 417.41,231.56 418.24,231.70 C419.07,231.84 419.72,232.74 420.55,232.88 C421.38,233.02 422.03,232.71 422.86,232.48 C423.69,232.25 424.34,231.74 425.17,231.58 C426.00,231.42 426.65,231.46 427.48,231.58 C428.31,231.70 428.96,232.04 429.79,232.22 C430.62,232.40 431.27,232.53 432.10,232.60 C432.93,232.67 433.58,232.60 434.41,232.60 C435.24,232.60 435.89,232.74 436.72,232.60 C437.55,232.46 438.20,232.00 439.03,231.82 C439.86,231.64 440.51,231.53 441.34,231.58 C442.17,231.63 442.82,231.82 443.65,232.10 C444.48,232.38 445.13,232.44 445.96,233.14 C446.79,233.84 447.44,235.41 448.27,235.98 C449.10,236.55 449.75,236.64 450.58,236.32 C451.41,236.00 452.06,234.90 452.89,234.22 C453.72,233.54 454.37,233.50 455.20,232.54 C456.03,231.58 456.68,230.63 457.51,228.90 C458.34,227.17 458.99,224.50 459.82,222.94 C460.65,221.38 461.30,221.07 462.13,220.26 C462.96,219.45 463.61,219.26 464.44,218.44 C465.27,217.62 465.92,216.64 466.75,215.70 C467.58,214.76 468.23,213.86 469.06,213.24 C469.89,212.62 470.54,212.63 471.37,212.28 C472.20,211.93 472.85,211.44 473.68,211.32 C474.51,211.20 475.16,211.76 475.99,211.64 C476.82,211.52 477.47,210.93 478.30,210.68 C479.13,210.43 479.78,210.16 480.61,210.24 C481.44,210.32 482.09,210.84 482.92,211.14 C483.75,211.44 484.40,211.73 485.23,211.92 C486.06,212.11 486.71,212.01 487.54,212.20 C488.37,212.39 489.02,212.57 489.85,212.96 C490.68,213.35 491.33,213.96 492.16,214.38 C492.99,214.80 493.64,215.30 494.47,215.30 C495.30,215.30 495.95,214.77 496.78,214.40 C497.61,214.03 498.26,213.56 499.09,213.24 C499.92,212.92 500.57,213.11 501.40,212.62 C502.23,212.13 502.88,211.41 503.71,210.54 C504.54,209.67 505.19,208.73 506.02,207.80 C506.85,206.87 507.50,205.89 508.33,205.36 C509.16,204.83 509.81,205.10 510.64,204.88 C511.47,204.66 512.12,204.08 512.95,204.14 C513.78,204.20 514.43,204.74 515.26,205.22 C516.09,205.70 516.74,206.09 517.57,206.82 C518.40,207.55 519.05,208.48 519.88,209.30 C520.71,210.12 521.36,211.01 522.19,211.38 C523.02,211.75 523.67,211.12 524.50,211.38 C525.33,211.64 525.98,212.40 526.81,212.82 C527.64,213.24 528.29,213.23 529.12,213.74 C529.95,214.25 530.60,215.14 531.43,215.68 C532.26,216.22 532.91,216.02 533.74,216.72 C534.57,217.42 535.22,218.76 536.05,219.58 C536.88,220.40 537.53,220.54 538.36,221.26 C539.19,221.98 539.84,223.00 540.67,223.58 C541.50,224.16 542.15,224.51 542.98,224.48 C543.81,224.45 544.46,223.49 545.29,223.44 C546.12,223.39 546.77,224.28 547.60,224.20 C548.43,224.12 549.08,223.70 549.91,223.00 C550.74,222.30 551.39,221.23 552.22,220.30 C553.05,219.37 553.70,218.27 554.53,217.86 C555.36,217.45 556.01,218.85 556.84,218.00 C557.67,217.15 558.32,215.15 559.15,213.14 C559.98,211.13 560.63,209.05 561.46,206.84 C562.29,204.63 562.94,202.97 563.77,200.84 C564.60,198.71 565.25,197.34 566.08,195.00 C566.91,192.66 567.56,189.69 568.39,187.86 C569.22,186.03 569.87,185.09 570.70,184.86 C571.53,184.63 572.18,186.25 573.01,186.56 C573.84,186.87 574.49,186.24 575.32,186.56 C576.15,186.88 576.80,187.95 577.63,188.32 C578.46,188.69 579.11,189.05 579.94,188.60 C580.77,188.15 581.42,187.08 582.25,185.80 C583.08,184.52 583.73,182.98 584.56,181.50 C585.39,180.02 586.04,179.13 586.87,177.60 C587.70,176.07 588.35,174.13 589.18,173.00 C590.01,171.87 590.66,171.35 591.49,171.30 C592.32,171.25 592.97,172.11 593.80,172.70 C594.63,173.29 595.69,174.26 596.11,174.60" fill="none" stroke="#23747e" stroke-width="1.0" stroke-linejoin="round"/>
<rect x="114.5" y="354.3" width="1.2" height="11.2" fill="#d04a68"/>
<rect x="116.9" y="357.2" width="1.2" height="8.3" fill="#d04a68"/>
<rect x="119.0" y="358.9" width="1.2" height="6.6" fill="#d04a68"/>
<rect x="121.6" y="359.1" width="1.2" height="6.4" fill="#d04a68"/>
<rect x="123.8" y="358.9" width="1.2" height="6.6" fill="#d04a68"/>
<rect x="126.1" y="357.2" width="1.2" height="8.3" fill="#d04a68"/>
<rect x="128.4" y="356.8" width="1.2" height="8.7" fill="#d04a68"/>
<rect x="130.6" y="355.3" width="1.2" height="10.2" fill="#d04a68"/>
<rect x="133.2" y="353.7" width="1.2" height="11.8" fill="#d04a68"/>
<rect x="135.5" y="353.7" width="1.2" height="11.8" fill="#d04a68"/>
<rect x="137.7" y="354.0" width="1.2" height="11.5" fill="#d04a68"/>
<rect x="140.0" y="354.3" width="1.2" height="11.2" fill="#d04a68"/>
<rect x="142.3" y="355.3" width="1.2" height="10.2" fill="#d04a68"/>
<rect x="144.7" y="357.6" width="1.2" height="7.9" fill="#d04a68"/>
<rect x="146.9" y="359.8" width="1.2" height="5.7" fill="#d04a68"/>
<rect x="149.2" y="361.1" width="1.2" height="4.4" fill="#d04a68"/>
<rect x="151.6" y="364.0" width="1.2" height="1.5" fill="#d04a68"/>
<rect x="157.0" y="365.5" width="1.2" height="0.7" fill="#45bba8"/>
<rect x="158.9" y="365.5" width="1.2" height="1.5" fill="#45bba8"/>
<rect x="160.8" y="365.5" width="1.2" height="3.3" fill="#45bba8"/>
<rect x="163.1" y="365.5" width="1.2" height="5.2" fill="#45bba8"/>
<rect x="165.3" y="365.5" width="1.2" height="7.1" fill="#45bba8"/>
<rect x="167.9" y="365.5" width="1.2" height="8.4" fill="#45bba8"/>
<rect x="169.8" y="365.5" width="1.2" height="9.7" fill="#45bba8"/>
<rect x="172.4" y="365.5" width="1.2" height="11.0" fill="#45bba8"/>
<rect x="174.3" y="365.5" width="1.2" height="11.6" fill="#45bba8"/>
<rect x="176.5" y="365.5" width="1.2" height="11.0" fill="#45bba8"/>
<rect x="178.8" y="365.5" width="1.2" height="9.1" fill="#45bba8"/>
<rect x="180.9" y="365.5" width="1.2" height="7.8" fill="#45bba8"/>
<rect x="183.3" y="365.5" width="1.2" height="7.1" fill="#45bba8"/>
<rect x="185.5" y="365.5" width="1.2" height="5.9" fill="#45bba8"/>
<rect x="187.8" y="365.5" width="1.2" height="4.6" fill="#45bba8"/>
<rect x="190.1" y="365.5" width="1.2" height="3.9" fill="#45bba8"/>
<rect x="192.3" y="365.5" width="1.2" height="2.6" fill="#45bba8"/>
<rect x="194.5" y="365.5" width="1.2" height="1.4" fill="#45bba8"/>
<rect x="197.0" y="365.5" width="1.2" height="1.0" fill="#45bba8"/>
<rect x="200.2" y="361.1" width="1.2" height="4.4" fill="#d04a68"/>
<rect x="202.4" y="359.1" width="1.2" height="6.4" fill="#d04a68"/>
<rect x="204.7" y="358.5" width="1.2" height="7.0" fill="#d04a68"/>
<rect x="207.0" y="357.9" width="1.2" height="7.6" fill="#d04a68"/>
<rect x="209.2" y="358.9" width="1.2" height="6.6" fill="#d04a68"/>
<rect x="211.5" y="358.9" width="1.2" height="6.6" fill="#d04a68"/>
<rect x="213.7" y="357.9" width="1.2" height="7.6" fill="#d04a68"/>
<rect x="216.0" y="356.3" width="1.2" height="9.2" fill="#d04a68"/>
<rect x="218.2" y="355.9" width="1.2" height="9.6" fill="#d04a68"/>
<rect x="220.5" y="355.5" width="1.2" height="10.0" fill="#d04a68"/>
<rect x="222.7" y="355.0" width="1.2" height="10.5" fill="#d04a68"/>
<rect x="225.0" y="354.6" width="1.2" height="10.9" fill="#d04a68"/>
<rect x="227.2" y="355.5" width="1.2" height="10.0" fill="#d04a68"/>
<rect x="229.4" y="357.2" width="1.2" height="8.3" fill="#d04a68"/>
<rect x="231.7" y="357.9" width="1.2" height="7.6" fill="#d04a68"/>
<rect x="234.0" y="359.8" width="1.2" height="5.7" fill="#d04a68"/>
<rect x="236.2" y="361.1" width="1.2" height="4.4" fill="#d04a68"/>
<rect x="238.7" y="362.4" width="1.2" height="3.1" fill="#d04a68"/>
<rect x="240.9" y="363.6" width="1.2" height="1.9" fill="#d04a68"/>
<rect x="243.2" y="364.5" width="1.2" height="1.0" fill="#d04a68"/>
<rect x="245.4" y="365.5" width="1.2" height="0.3" fill="#45bba8"/>
<rect x="247.6" y="365.5" width="1.2" height="0.8" fill="#45bba8"/>
<rect x="249.9" y="365.5" width="1.2" height="1.6" fill="#45bba8"/>
<rect x="252.0" y="365.5" width="1.2" height="1.1" fill="#45bba8"/>
<rect x="253.8" y="364.5" width="1.2" height="1.0" fill="#d04a68"/>
<rect x="255.4" y="362.4" width="1.2" height="3.1" fill="#d04a68"/>
<rect x="257.6" y="360.4" width="1.2" height="5.1" fill="#d04a68"/>
<rect x="260.0" y="358.5" width="1.2" height="7.0" fill="#d04a68"/>
<rect x="262.3" y="357.6" width="1.2" height="7.9" fill="#d04a68"/>
<rect x="264.4" y="357.9" width="1.2" height="7.6" fill="#d04a68"/>
<rect x="266.6" y="359.8" width="1.2" height="5.7" fill="#d04a68"/>
<rect x="269.0" y="360.4" width="1.2" height="5.1" fill="#d04a68"/>
<rect x="271.3" y="361.5" width="1.2" height="4.0" fill="#d04a68"/>
<rect x="273.4" y="362.4" width="1.2" height="3.1" fill="#d04a68"/>
<rect x="275.6" y="363.6" width="1.2" height="1.9" fill="#d04a68"/>
<rect x="277.9" y="364.9" width="1.2" height="0.6" fill="#d04a68"/>
<rect x="280.4" y="365.5" width="1.2" height="1.7" fill="#45bba8"/>
<rect x="282.6" y="365.5" width="1.2" height="2.7" fill="#45bba8"/>
<rect x="284.8" y="365.5" width="1.2" height="5.3" fill="#45bba8"/>
<rect x="287.0" y="365.5" width="1.2" height="6.6" fill="#45bba8"/>
<rect x="289.4" y="365.5" width="1.2" height="8.3" fill="#45bba8"/>
<rect x="291.4" y="365.5" width="1.2" height="8.5" fill="#45bba8"/>
<rect x="294.0" y="365.5" width="1.2" height="10.9" fill="#45bba8"/>
<rect x="296.3" y="365.5" width="1.2" height="11.4" fill="#45bba8"/>
<rect x="298.5" y="365.5" width="1.2" height="11.4" fill="#45bba8"/>
<rect x="300.8" y="365.5" width="1.2" height="10.9" fill="#45bba8"/>
<rect x="303.1" y="365.5" width="1.2" height="8.5" fill="#45bba8"/>
<rect x="305.4" y="365.5" width="1.2" height="6.6" fill="#45bba8"/>
<rect x="307.6" y="365.5" width="1.2" height="5.9" fill="#45bba8"/>
<rect x="309.9" y="365.5" width="1.2" height="5.3" fill="#45bba8"/>
<rect x="312.2" y="365.5" width="1.2" height="4.9" fill="#45bba8"/>
<rect x="314.4" y="365.5" width="1.2" height="4.4" fill="#45bba8"/>
<rect x="316.7" y="365.5" width="1.2" height="3.0" fill="#45bba8"/>
<rect x="319.0" y="365.5" width="1.2" height="2.3" fill="#45bba8"/>
<rect x="321.4" y="365.5" width="1.2" height="1.7" fill="#45bba8"/>
<rect x="323.6" y="365.5" width="1.2" height="1.7" fill="#45bba8"/>
<rect x="325.8" y="365.5" width="1.2" height="2.0" fill="#45bba8"/>
<rect x="328.1" y="365.5" width="1.2" height="2.7" fill="#45bba8"/>
<rect x="330.4" y="365.5" width="1.2" height="3.3" fill="#45bba8"/>
<rect x="332.7" y="365.5" width="1.2" height="3.6" fill="#45bba8"/>
<rect x="334.9" y="365.5" width="1.2" height="3.6" fill="#45bba8"/>
<rect x="337.2" y="365.5" width="1.2" height="3.0" fill="#45bba8"/>
<rect x="339.4" y="365.5" width="1.2" height="2.0" fill="#45bba8"/>
<rect x="341.7" y="365.5" width="1.2" height="1.1" fill="#45bba8"/>
<rect x="343.6" y="363.5" width="1.2" height="2.0" fill="#d04a68"/>
<rect x="345.7" y="362.3" width="1.2" height="3.2" fill="#d04a68"/>
<rect x="348.1" y="361.0" width="1.2" height="4.5" fill="#d04a68"/>
<rect x="350.3" y="360.4" width="1.2" height="5.1" fill="#d04a68"/>
<rect x="352.6" y="362.3" width="1.2" height="3.2" fill="#d04a68"/>
<rect x="354.8" y="364.3" width="1.2" height="1.2" fill="#d04a68"/>
<rect x="357.0" y="365.5" width="1.2" height="0.5" fill="#45bba8"/>
<rect x="359.3" y="365.5" width="1.2" height="0.7" fill="#45bba8"/>
<rect x="361.6" y="365.5" width="1.2" height="0.7" fill="#45bba8"/>
<rect x="363.8" y="365.5" width="1.2" height="0.4" fill="#45bba8"/>
<rect x="365.9" y="364.6" width="1.2" height="0.9" fill="#d04a68"/>
<rect x="368.6" y="363.6" width="1.2" height="1.9" fill="#d04a68"/>
<rect x="370.9" y="361.7" width="1.2" height="3.8" fill="#d04a68"/>
<rect x="373.2" y="360.4" width="1.2" height="5.1" fill="#d04a68"/>
<rect x="375.5" y="359.7" width="1.2" height="5.8" fill="#d04a68"/>
<rect x="377.7" y="359.4" width="1.2" height="6.1" fill="#d04a68"/>
<rect x="380.0" y="359.7" width="1.2" height="5.8" fill="#d04a68"/>
<rect x="382.4" y="360.0" width="1.2" height="5.5" fill="#d04a68"/>
<rect x="384.6" y="360.4" width="1.2" height="5.1" fill="#d04a68"/>
<rect x="386.8" y="361.0" width="1.2" height="4.5" fill="#d04a68"/>
<rect x="389.1" y="361.7" width="1.2" height="3.8" fill="#d04a68"/>
<rect x="391.4" y="362.3" width="1.2" height="3.2" fill="#d04a68"/>
<rect x="393.7" y="363.9" width="1.2" height="1.6" fill="#d04a68"/>
<rect x="395.9" y="365.2" width="1.2" height="0.3" fill="#d04a68"/>
<rect x="397.9" y="365.5" width="1.2" height="0.7" fill="#45bba8"/>
<rect x="399.5" y="365.5" width="1.2" height="1.4" fill="#45bba8"/>
<rect x="401.8" y="365.5" width="1.2" height="3.3" fill="#45bba8"/>
<rect x="404.1" y="365.5" width="1.2" height="4.6" fill="#45bba8"/>
<rect x="406.3" y="365.5" width="1.2" height="5.9" fill="#45bba8"/>
<rect x="408.6" y="365.5" width="1.2" height="7.2" fill="#45bba8"/>
<rect x="411.0" y="365.5" width="1.2" height="7.9" fill="#45bba8"/>
<rect x="413.2" y="365.5" width="1.2" height="8.3" fill="#45bba8"/>
<rect x="415.4" y="365.5" width="1.2" height="7.5" fill="#45bba8"/>
<rect x="417.7" y="365.5" width="1.2" height="5.9" fill="#45bba8"/>
<rect x="420.1" y="365.5" width="1.2" height="4.6" fill="#45bba8"/>
<rect x="422.3" y="365.5" width="1.2" height="3.6" fill="#45bba8"/>
<rect x="424.5" y="365.5" width="1.2" height="2.3" fill="#45bba8"/>
<rect x="426.8" y="365.5" width="1.2" height="1.4" fill="#45bba8"/>
<rect x="429.2" y="365.5" width="1.2" height="0.7" fill="#45bba8"/>
<rect x="432.0" y="365.2" width="1.2" height="0.3" fill="#d04a68"/>
<rect x="434.3" y="364.6" width="1.2" height="0.9" fill="#d04a68"/>
<rect x="436.6" y="363.6" width="1.2" height="1.9" fill="#d04a68"/>
<rect x="438.8" y="362.6" width="1.2" height="2.9" fill="#d04a68"/>
<rect x="441.1" y="362.6" width="1.2" height="2.9" fill="#d04a68"/>
<rect x="443.5" y="363.6" width="1.2" height="1.9" fill="#d04a68"/>
<rect x="445.7" y="364.9" width="1.2" height="0.6" fill="#d04a68"/>
<rect x="448.1" y="365.5" width="1.2" height="0.7" fill="#45bba8"/>
<rect x="450.2" y="363.5" width="1.2" height="2.0" fill="#d04a68"/>
<rect x="452.4" y="361.5" width="1.2" height="4.0" fill="#d04a68"/>
<rect x="454.7" y="361.0" width="1.2" height="4.5" fill="#d04a68"/>
<rect x="456.9" y="359.1" width="1.2" height="6.4" fill="#d04a68"/>
<rect x="459.2" y="357.4" width="1.2" height="8.1" fill="#d04a68"/>
<rect x="461.6" y="356.5" width="1.2" height="9.0" fill="#d04a68"/>
<rect x="463.9" y="356.1" width="1.2" height="9.4" fill="#d04a68"/>
<rect x="466.2" y="355.8" width="1.2" height="9.7" fill="#d04a68"/>
<rect x="468.4" y="356.1" width="1.2" height="9.4" fill="#d04a68"/>
<rect x="470.6" y="356.5" width="1.2" height="9.0" fill="#d04a68"/>
<rect x="472.9" y="357.1" width="1.2" height="8.4" fill="#d04a68"/>
<rect x="475.2" y="358.4" width="1.2" height="7.1" fill="#d04a68"/>
<rect x="477.5" y="359.7" width="1.2" height="5.8" fill="#d04a68"/>
<rect x="479.7" y="360.4" width="1.2" height="5.1" fill="#d04a68"/>
<rect x="481.9" y="361.7" width="1.2" height="3.8" fill="#d04a68"/>
<rect x="484.3" y="362.6" width="1.2" height="2.9" fill="#d04a68"/>
<rect x="486.6" y="363.3" width="1.2" height="2.2" fill="#d04a68"/>
<rect x="488.8" y="364.3" width="1.2" height="1.2" fill="#d04a68"/>
<rect x="491.0" y="365.2" width="1.2" height="0.3" fill="#d04a68"/>
<rect x="493.2" y="365.5" width="1.2" height="0.1" fill="#45bba8"/>
<rect x="495.6" y="365.5" width="1.2" height="0.3" fill="#45bba8"/>
<rect x="497.9" y="365.5" width="1.2" height="0.0" fill="#45bba8"/>
<rect x="500.2" y="365.2" width="1.2" height="0.3" fill="#d04a68"/>
<rect x="502.4" y="364.3" width="1.2" height="1.2" fill="#d04a68"/>
<rect x="505.0" y="364.0" width="1.2" height="1.5" fill="#d04a68"/>
<rect x="507.3" y="363.0" width="1.2" height="2.5" fill="#d04a68"/>
<rect x="509.5" y="363.9" width="1.2" height="1.6" fill="#d04a68"/>
<rect x="511.8" y="364.6" width="1.2" height="0.9" fill="#d04a68"/>
<rect x="514.1" y="365.5" width="1.2" height="0.1" fill="#45bba8"/>
<rect x="517.7" y="365.5" width="1.2" height="1.7" fill="#45bba8"/>
<rect x="519.9" y="365.5" width="1.2" height="2.3" fill="#45bba8"/>
<rect x="522.2" y="365.5" width="1.2" height="3.0" fill="#45bba8"/>
<rect x="524.6" y="365.5" width="1.2" height="3.6" fill="#45bba8"/>
<rect x="526.8" y="365.5" width="1.2" height="3.6" fill="#45bba8"/>
<rect x="529.0" y="365.5" width="1.2" height="4.0" fill="#45bba8"/>
<rect x="531.3" y="365.5" width="1.2" height="4.6" fill="#45bba8"/>
<rect x="533.7" y="365.5" width="1.2" height="5.3" fill="#45bba8"/>
<rect x="535.9" y="365.5" width="1.2" height="5.7" fill="#45bba8"/>
<rect x="538.1" y="365.5" width="1.2" height="5.9" fill="#45bba8"/>
<rect x="540.4" y="365.5" width="1.2" height="6.1" fill="#45bba8"/>
<rect x="542.7" y="365.5" width="1.2" height="5.9" fill="#45bba8"/>
<rect x="545.0" y="365.5" width="1.2" height="5.1" fill="#45bba8"/>
<rect x="547.3" y="365.5" width="1.2" height="4.2" fill="#45bba8"/>
<rect x="549.4" y="365.5" width="1.2" height="3.5" fill="#45bba8"/>
<rect x="552.8" y="365.5" width="1.2" height="1.6" fill="#45bba8"/>
<rect x="556.1" y="364.9" width="1.2" height="0.6" fill="#d04a68"/>
<rect x="558.3" y="364.5" width="1.2" height="1.0" fill="#d04a68"/>
<rect x="560.6" y="361.9" width="1.2" height="3.6" fill="#d04a68"/>
<rect x="562.9" y="357.3" width="1.2" height="8.2" fill="#d04a68"/>
<rect x="565.2" y="354.1" width="1.2" height="11.4" fill="#d04a68"/>
<rect x="567.4" y="352.8" width="1.2" height="12.7" fill="#d04a68"/>
<rect x="569.7" y="352.4" width="1.2" height="13.1" fill="#d04a68"/>
<rect x="572.1" y="354.7" width="1.2" height="10.8" fill="#d04a68"/>
<rect x="574.3" y="356.7" width="1.2" height="8.8" fill="#d04a68"/>
<rect x="576.5" y="357.6" width="1.2" height="7.9" fill="#d04a68"/>
<rect x="578.8" y="359.3" width="1.2" height="6.2" fill="#d04a68"/>
<rect x="581.2" y="357.3" width="1.2" height="8.2" fill="#d04a68"/>
<rect x="583.4" y="357.0" width="1.2" height="8.5" fill="#d04a68"/>
<rect x="585.6" y="356.0" width="1.2" height="9.5" fill="#d04a68"/>
<rect x="587.9" y="356.7" width="1.2" height="8.8" fill="#d04a68"/>
<rect x="590.3" y="358.6" width="1.2" height="6.9" fill="#d04a68"/>
<rect x="592.5" y="360.9" width="1.2" height="4.6" fill="#d04a68"/>
<rect x="594.7" y="363.5" width="1.2" height="2.0" fill="#d04a68"/>
<path d="M114.30,391.40 C115.33,391.15 117.43,391.28 120.00,390.00 C122.57,388.72 125.52,387.90 128.60,384.30 C131.68,380.70 134.02,373.19 137.10,370.00 C140.18,366.81 142.60,367.12 145.70,366.60 C148.80,366.08 151.20,365.97 154.30,367.10 C157.40,368.23 159.82,369.55 162.90,372.90 C165.98,376.25 168.32,381.60 171.40,385.70 C174.48,389.80 176.90,393.38 180.00,395.70 C183.10,398.02 185.52,398.35 188.60,398.60 C191.68,398.85 194.53,398.40 197.10,397.10 C199.67,395.80 200.33,394.23 202.90,391.40 C205.47,388.57 208.32,385.25 211.40,381.40 C214.48,377.55 216.90,373.85 220.00,370.00 C223.10,366.15 225.52,362.05 228.60,360.00 C231.68,357.95 234.33,358.64 237.10,358.60 C239.87,358.56 241.43,359.30 244.00,359.80 C246.57,360.30 248.52,362.91 251.40,361.40 C254.28,359.89 256.90,353.97 260.00,351.40 C263.10,348.83 265.00,347.60 268.60,347.10 C272.20,346.60 276.40,347.05 280.00,348.60 C283.60,350.15 285.52,352.87 288.60,355.70 C291.68,358.53 294.90,360.54 297.10,364.30 C299.30,368.06 299.20,373.68 300.80,376.60 C302.40,379.52 303.66,379.51 306.00,380.50 C308.34,381.49 310.99,381.51 313.80,382.10 C316.61,382.69 318.79,383.26 321.60,383.80 C324.41,384.34 326.83,384.40 329.40,385.10 C331.97,385.80 333.79,387.12 335.90,387.70 C338.01,388.28 339.23,389.24 341.10,388.30 C342.97,387.36 344.43,384.37 346.30,382.50 C348.17,380.63 349.39,378.13 351.50,377.90 C353.61,377.67 355.66,380.46 358.00,381.20 C360.34,381.94 362.07,382.83 364.50,382.00 C366.93,381.17 369.07,378.51 371.50,376.60 C373.93,374.69 375.66,373.04 378.00,371.40 C380.34,369.76 382.16,368.47 384.50,367.50 C386.84,366.53 388.66,366.11 391.00,366.00 C393.34,365.89 395.16,365.46 397.50,366.90 C399.84,368.34 401.89,371.55 404.00,374.00 C406.11,376.45 407.09,378.16 409.20,380.50 C411.31,382.84 413.36,385.60 415.70,387.00 C418.04,388.40 419.63,388.41 422.20,388.30 C424.77,388.19 427.19,387.21 430.00,386.40 C432.81,385.59 434.99,384.63 437.80,383.80 C440.61,382.97 443.40,382.50 445.60,381.80 C447.80,381.10 448.27,380.84 450.00,379.90 C451.73,378.96 453.33,378.47 455.20,376.60 C457.07,374.73 458.53,372.31 460.40,369.50 C462.27,366.69 463.73,363.34 465.60,361.00 C467.47,358.66 468.93,357.67 470.80,356.50 C472.67,355.33 473.89,354.97 476.00,354.50 C478.11,354.03 480.16,353.72 482.50,353.90 C484.84,354.08 486.43,355.03 489.00,355.50 C491.57,355.97 493.99,356.68 496.80,356.50 C499.61,356.32 502.03,355.09 504.60,354.50 C507.17,353.91 508.76,353.20 511.10,353.20 C513.44,353.20 515.26,353.67 517.60,354.50 C519.94,355.33 521.76,356.09 524.10,357.80 C526.44,359.51 528.37,361.75 530.60,364.00 C532.83,366.25 534.27,368.70 536.50,370.30 C538.73,371.90 540.66,371.96 543.00,372.90 C545.34,373.84 547.16,375.97 549.50,375.50 C551.84,375.03 553.66,373.34 556.00,370.30 C558.34,367.26 560.63,362.11 562.50,358.60 C564.37,355.09 564.76,353.01 566.40,350.80 C568.04,348.59 569.49,347.47 571.60,346.30 C573.71,345.13 575.99,345.47 578.10,344.30 C580.21,343.13 581.66,341.44 583.30,339.80 C584.94,338.16 585.80,336.50 587.20,335.20 C588.60,333.90 589.70,332.60 591.10,332.60 C592.50,332.60 594.30,334.73 595.00,335.20" fill="none" stroke="#1f7186" stroke-width="1.1" stroke-linejoin="round"/>
<path d="M115.70,401.40 C118.02,399.35 123.70,395.13 128.60,390.00 C133.50,384.87 138.80,376.75 142.90,372.90 C147.00,369.05 148.32,369.37 151.40,368.60 C154.48,367.83 156.90,367.83 160.00,368.60 C163.10,369.37 165.00,370.07 168.60,372.90 C172.20,375.73 175.90,380.45 180.00,384.30 C184.10,388.15 188.32,392.14 191.40,394.30 C194.48,396.46 194.53,396.55 197.10,396.30 C199.67,396.05 201.58,395.83 205.70,392.90 C209.82,389.97 214.85,385.15 220.00,380.00 C225.15,374.85 230.18,367.65 234.30,364.30 C238.42,360.95 239.30,361.92 242.90,361.40 C246.50,360.88 250.20,362.43 254.30,361.40 C258.40,360.37 261.60,357.64 265.70,355.70 C269.80,353.76 272.98,351.10 277.10,350.60 C281.22,350.10 284.48,350.43 288.60,352.90 C292.72,355.37 296.87,360.50 300.00,364.30 C303.13,368.10 303.75,371.66 306.00,374.00 C308.25,376.34 310.16,376.36 312.50,377.30 C314.84,378.24 316.43,378.50 319.00,379.20 C321.57,379.90 323.99,380.44 326.80,381.20 C329.61,381.96 331.79,382.59 334.60,383.40 C337.41,384.21 340.06,385.63 342.40,385.70 C344.74,385.77 345.49,384.61 347.60,383.80 C349.71,382.99 351.76,381.74 354.10,381.20 C356.44,380.66 358.64,380.80 360.60,380.80 C362.56,380.80 362.80,381.49 365.00,381.20 C367.20,380.91 369.99,380.50 372.80,379.20 C375.61,377.90 378.03,375.51 380.60,374.00 C383.17,372.49 384.76,371.68 387.10,370.80 C389.44,369.92 391.26,369.33 393.60,369.10 C395.94,368.87 397.76,368.85 400.10,369.50 C402.44,370.15 404.26,371.06 406.60,372.70 C408.94,374.34 410.76,376.73 413.10,378.60 C415.44,380.47 417.26,381.93 419.60,383.10 C421.94,384.27 423.53,384.74 426.10,385.10 C428.67,385.46 430.86,385.33 433.90,385.10 C436.94,384.87 440.10,384.16 443.00,383.80 C445.90,383.44 447.57,383.80 450.00,383.10 C452.43,382.40 454.16,381.54 456.50,379.90 C458.84,378.26 460.66,376.23 463.00,374.00 C465.34,371.77 467.16,369.71 469.50,367.50 C471.84,365.29 473.66,363.45 476.00,361.70 C478.34,359.95 480.16,358.68 482.50,357.80 C484.84,356.92 486.43,357.03 489.00,356.80 C491.57,356.57 493.99,356.63 496.80,356.50 C499.61,356.37 501.79,356.33 504.60,356.10 C507.41,355.87 510.06,355.43 512.40,355.20 C514.74,354.97 515.49,354.51 517.60,354.80 C519.71,355.09 521.81,355.86 524.10,356.80 C526.39,357.74 528.07,358.74 530.30,360.00 C532.53,361.26 534.21,362.41 536.50,363.80 C538.79,365.19 540.66,366.40 543.00,367.70 C545.34,369.00 547.16,370.30 549.50,371.00 C551.84,371.70 553.89,371.73 556.00,371.60 C558.11,371.47 559.33,371.94 561.20,370.30 C563.07,368.66 564.29,365.18 566.40,362.50 C568.51,359.82 570.56,357.74 572.90,355.40 C575.24,353.06 577.06,351.61 579.40,349.50 C581.74,347.39 583.79,345.45 585.90,343.70 C588.01,341.95 589.23,340.81 591.10,339.80 C592.97,338.79 595.36,338.41 596.30,338.10" fill="none" stroke="#c0ad4a" stroke-width="1.1" stroke-linejoin="round"/>
<path d="M75.20,414.70 C75.61,415.38 76.55,417.55 77.50,418.50 C78.45,419.45 79.42,418.92 80.50,420.00 C81.58,421.08 82.42,422.61 83.50,424.50 C84.58,426.39 85.42,428.07 86.50,430.50 C87.58,432.93 88.56,436.11 89.50,438.00 C90.44,439.89 90.62,440.06 91.70,441.00 C92.78,441.94 94.28,441.85 95.50,443.20 C96.72,444.55 97.42,446.47 98.50,448.50 C99.58,450.53 100.15,451.94 101.50,454.50 C102.85,457.06 104.38,460.54 106.00,462.70 C107.62,464.86 108.61,465.28 110.50,466.50 C112.39,467.72 114.48,468.29 116.50,469.50 C118.52,470.71 119.81,472.66 121.70,473.20 C123.59,473.74 125.06,472.63 127.00,472.50 C128.94,472.37 130.16,472.28 132.50,472.50 C134.84,472.72 135.95,473.38 140.00,473.70 C144.05,474.02 149.60,474.12 155.00,474.30 C160.40,474.48 164.60,474.63 170.00,474.70 C175.40,474.77 180.14,474.77 185.00,474.70 C189.86,474.63 193.76,474.97 197.00,474.30 C200.24,473.63 201.25,472.01 203.00,471.00 C204.75,469.99 205.22,468.92 206.70,468.70 C208.18,468.48 209.53,469.17 211.20,469.80 C212.87,470.43 213.52,471.50 216.00,472.20 C218.48,472.90 220.68,473.38 225.00,473.70 C229.32,474.02 234.60,473.89 240.00,474.00 C245.40,474.11 251.22,474.57 255.00,474.30 C258.78,474.03 258.30,473.09 261.00,472.50 C263.70,471.91 267.03,471.49 270.00,471.00 C272.97,470.51 274.80,470.29 277.50,469.80 C280.20,469.31 282.30,468.84 285.00,468.30 C287.70,467.76 289.80,467.12 292.50,466.80 C295.20,466.48 298.20,466.55 300.00,466.50 C301.80,466.45 300.97,467.18 302.50,466.50 C304.03,465.82 306.34,463.78 308.50,462.70 C310.66,461.62 312.61,460.23 314.50,460.50 C316.39,460.77 316.84,463.39 319.00,464.20 C321.16,465.01 323.80,464.05 326.50,465.00 C329.20,465.95 331.57,468.83 334.00,469.50 C336.43,470.17 338.11,468.97 340.00,468.70 C341.89,468.43 342.88,469.35 344.50,468.00 C346.12,466.65 347.11,463.63 349.00,461.20 C350.89,458.77 353.11,456.52 355.00,454.50 C356.89,452.48 357.88,451.49 359.50,450.00 C361.12,448.51 362.11,446.47 364.00,446.20 C365.89,445.93 368.11,447.69 370.00,448.50 C371.89,449.31 372.88,449.89 374.50,450.70 C376.12,451.51 378.01,452.32 379.00,453.00 C379.99,453.68 378.74,454.55 380.00,454.50 C381.26,454.45 383.84,452.70 386.00,452.70 C388.16,452.70 389.84,453.51 392.00,454.50 C394.16,455.49 395.57,456.58 398.00,458.20 C400.43,459.82 402.80,462.01 405.50,463.50 C408.20,464.99 410.57,465.96 413.00,466.50 C415.43,467.04 416.84,466.91 419.00,466.50 C421.16,466.09 423.11,464.88 425.00,464.20 C426.89,463.52 427.61,462.70 429.50,462.70 C431.39,462.70 433.07,463.93 435.50,464.20 C437.93,464.47 440.57,464.87 443.00,464.20 C445.43,463.53 447.11,462.52 449.00,460.50 C450.89,458.48 451.88,455.16 453.50,453.00 C455.12,450.84 456.65,449.18 458.00,448.50 C459.35,447.82 459.92,448.53 461.00,449.20 C462.08,449.87 462.20,452.06 464.00,452.20 C465.80,452.34 468.39,449.59 471.00,450.00 C473.61,450.41 476.07,453.42 478.50,454.50 C480.93,455.58 482.34,455.06 484.50,456.00 C486.66,456.94 488.34,458.35 490.50,459.70 C492.66,461.05 494.34,462.42 496.50,463.50 C498.66,464.58 500.75,465.43 502.50,465.70 C504.25,465.97 504.85,465.94 506.20,465.00 C507.55,464.06 508.24,461.85 510.00,460.50 C511.76,459.15 514.11,459.39 516.00,457.50 C517.89,455.61 518.88,453.24 520.50,450.00 C522.12,446.76 523.38,442.74 525.00,439.50 C526.62,436.26 527.95,434.18 529.50,432.00 C531.05,429.82 532.21,428.08 533.60,427.40 C534.99,426.72 536.12,428.11 537.20,428.20 C538.28,428.29 538.52,427.79 539.60,427.90 C540.68,428.01 541.90,429.29 543.20,428.80 C544.50,428.31 545.50,426.39 546.80,425.20 C548.10,424.01 549.10,423.17 550.40,422.20 C551.70,421.23 552.60,420.45 554.00,419.80 C555.40,419.15 557.44,418.82 558.20,418.60" fill="none" stroke="#c445b8" stroke-width="1.6" stroke-linejoin="round"/>
<path d="M52.70,418.50 C53.38,421.20 55.36,429.00 56.50,433.50 L58.70,443.20 C59.84,445.24 60.47,447.16 62.50,450.00 C64.53,452.84 67.30,455.76 70.00,459.00 C72.70,462.24 74.80,465.71 77.50,468.00 C80.20,470.29 82.30,470.76 85.00,471.70 C87.70,472.64 89.26,473.20 92.50,473.20 C95.74,473.20 100.57,473.18 103.00,471.70 C105.43,470.22 104.92,467.83 106.00,465.00 C107.08,462.17 107.92,458.43 109.00,456.00 C110.08,453.57 110.65,451.50 112.00,451.50 C113.35,451.50 114.88,454.11 116.50,456.00 C118.12,457.89 119.38,461.19 121.00,462.00 C122.62,462.81 123.97,462.12 125.50,460.50 C127.03,458.88 128.24,456.24 129.50,453.00 C130.76,449.76 131.29,446.15 132.50,442.50 C133.71,438.85 134.85,435.40 136.20,432.70 C137.55,430.00 138.72,429.03 140.00,427.50 C141.28,425.97 142.22,424.47 143.30,424.20 C144.38,423.93 144.97,424.87 146.00,426.00 C147.03,427.13 147.92,427.94 149.00,430.50 C150.08,433.06 150.92,436.69 152.00,440.20 C153.08,443.71 153.92,447.03 155.00,450.00 C156.08,452.97 156.92,454.95 158.00,456.70 C159.08,458.45 159.92,459.56 161.00,459.70 C162.08,459.84 162.92,457.23 164.00,457.50 C165.08,457.77 165.92,460.93 167.00,461.20 C168.08,461.47 168.65,458.59 170.00,459.00 C171.35,459.41 172.61,462.15 174.50,463.50 C176.39,464.85 178.07,465.56 180.50,466.50 C182.93,467.44 185.30,467.89 188.00,468.70 C190.70,469.51 193.07,470.73 195.50,471.00 C197.93,471.27 199.61,471.01 201.50,470.20 C203.39,469.39 204.38,468.12 206.00,466.50 C207.62,464.88 209.15,463.63 210.50,461.20 C211.85,458.77 212.51,456.10 213.50,453.00 C214.49,449.90 215.01,446.16 216.00,444.00 C216.99,441.84 217.92,441.68 219.00,441.00 C220.08,440.32 220.92,438.85 222.00,440.20 C223.08,441.55 223.92,445.66 225.00,448.50 C226.08,451.34 226.65,454.25 228.00,456.00 C229.35,457.75 230.88,457.26 232.50,458.20 C234.12,459.14 235.38,459.98 237.00,461.20 C238.62,462.42 239.88,463.65 241.50,465.00 C243.12,466.35 244.38,467.89 246.00,468.70 C247.62,469.51 249.15,470.44 250.50,469.50 C251.85,468.56 252.60,465.30 253.50,463.50 L256.50,450.00 C257.40,446.85 258.42,443.01 259.50,439.50 C260.58,435.99 261.15,433.47 262.50,430.50 C263.85,427.53 265.38,425.16 267.00,423.00 C268.62,420.84 270.29,419.53 271.50,418.50 C272.71,417.47 272.62,416.76 273.70,417.30 C274.78,417.84 276.01,418.85 277.50,421.50 C278.99,424.15 280.65,428.49 282.00,432.00 C283.35,435.51 283.92,438.03 285.00,441.00 C286.08,443.97 286.65,446.07 288.00,448.50 C289.35,450.93 290.88,452.34 292.50,454.50 C294.12,456.66 295.74,459.02 297.00,460.50 C298.26,461.98 297.97,461.49 299.50,462.70 C301.03,463.91 303.34,465.85 305.50,467.20 C307.66,468.55 309.34,469.57 311.50,470.20 C313.66,470.83 315.61,471.64 317.50,470.70 C319.39,469.76 320.38,466.62 322.00,465.00 C323.62,463.38 324.88,461.70 326.50,461.70 C328.12,461.70 329.11,463.60 331.00,465.00 C332.89,466.40 334.84,468.83 337.00,469.50 C339.16,470.17 341.38,470.05 343.00,468.70 C344.62,467.35 344.92,465.37 346.00,462.00 C347.08,458.63 347.65,454.19 349.00,450.00 C350.35,445.81 351.88,442.48 353.50,438.70 C355.12,434.92 356.11,432.10 358.00,429.00 C359.89,425.90 362.11,422.45 364.00,421.50 C365.89,420.55 367.15,422.89 368.50,423.70 C369.85,424.51 369.88,426.00 371.50,426.00 C373.12,426.00 375.61,424.42 377.50,423.70 C379.39,422.98 380.47,422.40 382.00,422.00 C383.53,421.60 384.47,421.46 386.00,421.50 C387.53,421.54 388.88,420.31 390.50,422.20 C392.12,424.09 393.38,428.08 395.00,432.00 C396.62,435.92 397.88,440.22 399.50,444.00 C401.12,447.78 402.11,449.76 404.00,453.00 C405.89,456.24 407.84,459.30 410.00,462.00 C412.16,464.70 413.84,466.38 416.00,468.00 C418.16,469.62 420.38,471.00 422.00,471.00 C423.62,471.00 423.92,469.62 425.00,468.00 C426.08,466.38 426.65,463.76 428.00,462.00 C429.35,460.24 430.61,459.77 432.50,458.20 C434.39,456.63 436.61,453.70 438.50,453.30 C440.39,452.90 441.38,454.97 443.00,456.00 C444.62,457.03 445.88,459.54 447.50,459.00 C449.12,458.46 450.65,454.89 452.00,453.00 C453.35,451.11 453.65,449.85 455.00,448.50 C456.35,447.15 457.88,447.66 459.50,445.50 C461.12,443.34 462.47,440.55 464.00,436.50 C465.53,432.45 466.47,426.11 468.00,423.00 C469.53,419.89 471.02,418.93 472.50,419.20 C473.98,419.47 474.85,423.96 476.20,424.50 C477.55,425.04 478.51,421.93 480.00,422.20 C481.49,422.47 482.61,424.92 484.50,426.00 C486.39,427.08 488.61,426.58 490.50,428.20 C492.39,429.82 493.38,433.78 495.00,435.00 C496.62,436.22 497.88,435.41 499.50,435.00 C501.12,434.59 502.11,433.78 504.00,432.70 C505.89,431.62 508.11,429.27 510.00,429.00 C511.89,428.73 512.88,430.12 514.50,431.20 C516.12,432.28 517.38,433.38 519.00,435.00 C520.62,436.62 521.88,438.99 523.50,440.20 C525.12,441.41 526.52,440.89 528.00,441.70 C529.48,442.51 530.35,444.83 531.70,444.70 C533.05,444.57 534.01,442.62 535.50,441.00 C536.99,439.38 538.38,437.05 540.00,435.70 C541.62,434.35 543.28,434.42 544.50,433.50 C545.72,432.58 545.74,432.09 546.80,430.60 C547.86,429.11 549.10,426.71 550.40,425.20 C551.70,423.69 552.70,422.20 554.00,422.20 C555.30,422.20 556.30,425.42 557.60,425.20 C558.90,424.98 559.69,422.30 561.20,421.00 C562.71,419.70 564.27,418.43 566.00,418.00 C567.73,417.57 569.50,417.74 570.80,418.60 C572.10,419.46 572.23,421.61 573.20,422.80 C574.17,423.99 574.90,425.42 576.20,425.20 C577.50,424.98 579.00,423.00 580.40,421.60 C581.80,420.20 583.35,418.16 584.00,417.40" fill="none" stroke="#1f9196" stroke-width="1.4" stroke-linejoin="round"/>
<path d="M52.70,417.70 C53.24,418.65 54.62,420.84 55.70,423.00 C56.78,425.16 57.75,426.87 58.70,429.70 C59.65,432.53 60.05,436.54 61.00,438.70 C61.95,440.86 62.92,440.21 64.00,441.70 C65.08,443.19 65.65,444.70 67.00,447.00 C68.35,449.30 69.88,451.80 71.50,454.50 C73.12,457.20 74.11,459.44 76.00,462.00 C77.89,464.56 79.57,466.81 82.00,468.70 C84.43,470.59 86.26,471.55 89.50,472.50 C92.74,473.45 95.41,473.68 100.00,474.00 C104.59,474.32 111.09,474.30 115.00,474.30 C118.91,474.30 119.90,474.32 121.70,474.00 C123.50,473.68 123.87,473.58 125.00,472.50 C126.13,471.42 126.92,470.97 128.00,468.00 C129.08,465.03 129.92,460.05 131.00,456.00 C132.08,451.95 132.92,448.20 134.00,445.50 C135.08,442.80 135.38,441.86 137.00,441.00 C138.62,440.14 141.11,440.30 143.00,440.70 C144.89,441.10 146.15,442.07 147.50,443.20 C148.85,444.33 149.56,445.65 150.50,447.00 C151.44,448.35 151.62,450.70 152.70,450.70 C153.78,450.70 155.01,448.75 156.50,447.00 C157.99,445.25 159.38,443.16 161.00,441.00 C162.62,438.84 164.15,435.95 165.50,435.00 C166.85,434.05 167.42,434.76 168.50,435.70 C169.58,436.64 170.42,437.63 171.50,440.20 C172.58,442.77 173.15,446.62 174.50,450.00 C175.85,453.38 177.11,456.17 179.00,459.00 C180.89,461.83 182.84,463.54 185.00,465.70 C187.16,467.86 188.84,469.65 191.00,471.00 C193.16,472.35 194.84,473.07 197.00,473.20 C199.16,473.33 201.25,472.10 203.00,471.70 C204.75,471.30 205.22,470.91 206.70,471.00 C208.18,471.09 209.80,472.20 211.20,472.20 C212.60,472.20 213.10,471.76 214.50,471.00 C215.90,470.24 217.11,468.76 219.00,468.00 C220.89,467.24 222.57,467.21 225.00,466.80 C227.43,466.39 230.07,466.56 232.50,465.70 C234.93,464.84 236.61,462.27 238.50,462.00 C240.39,461.73 241.38,463.26 243.00,464.20 C244.62,465.14 246.02,466.19 247.50,467.20 C248.98,468.21 249.85,469.80 251.20,469.80 C252.55,469.80 253.78,469.14 255.00,467.20 C256.22,465.26 256.79,461.97 258.00,459.00 C259.21,456.03 260.62,452.32 261.70,450.70 C262.78,449.08 263.19,451.15 264.00,450.00 C264.81,448.85 265.12,445.79 266.20,444.30 C267.28,442.81 268.24,443.10 270.00,441.70 C271.76,440.30 274.11,437.98 276.00,436.50 C277.89,435.02 278.88,434.45 280.50,433.50 C282.12,432.55 283.38,432.15 285.00,431.20 C286.62,430.25 288.02,429.01 289.50,428.20 C290.98,427.39 292.21,426.93 293.20,426.70 C294.19,426.47 294.14,425.68 295.00,426.90 C295.86,428.12 296.65,429.88 298.00,433.50 C299.35,437.12 300.88,442.68 302.50,447.00 C304.12,451.32 305.38,454.53 307.00,457.50 C308.62,460.47 309.61,461.61 311.50,463.50 C313.39,465.39 315.07,466.70 317.50,468.00 C319.93,469.30 322.30,469.89 325.00,470.70 C327.70,471.51 329.80,471.85 332.50,472.50 C335.20,473.15 337.84,474.30 340.00,474.30 C342.16,474.30 342.88,474.71 344.50,472.50 C346.12,470.29 347.11,466.05 349.00,462.00 C350.89,457.95 353.11,453.51 355.00,450.00 C356.89,446.49 358.02,444.44 359.50,442.50 C360.98,440.56 362.12,439.52 363.20,439.20 C364.28,438.88 364.28,441.33 365.50,440.70 C366.72,440.07 368.11,437.81 370.00,435.70 C371.89,433.59 374.11,431.29 376.00,429.00 C377.89,426.71 378.97,424.62 380.50,423.00 C382.03,421.38 382.97,420.95 384.50,420.00 C386.03,419.05 387.65,417.70 389.00,417.70 C390.35,417.70 390.65,418.24 392.00,420.00 C393.35,421.76 394.88,424.80 396.50,427.50 C398.12,430.20 399.38,431.49 401.00,435.00 C402.62,438.51 403.88,443.22 405.50,447.00 C407.12,450.78 408.11,452.76 410.00,456.00 C411.89,459.24 413.84,462.57 416.00,465.00 C418.16,467.43 419.57,468.15 422.00,469.50 C424.43,470.85 426.26,471.64 429.50,472.50 C432.74,473.36 436.76,474.30 440.00,474.30 C443.24,474.30 445.61,473.63 447.50,472.50 C449.39,471.37 449.42,470.03 450.50,468.00 C451.58,465.97 452.42,463.63 453.50,461.20 C454.58,458.77 455.42,456.79 456.50,454.50 C457.58,452.21 458.15,450.93 459.50,448.50 C460.85,446.07 462.65,442.89 464.00,441.00 C465.35,439.11 466.01,439.35 467.00,438.00 C467.99,436.65 468.24,434.09 469.50,433.50 C470.76,432.91 472.11,435.38 474.00,434.70 C475.89,434.02 477.84,431.54 480.00,429.70 C482.16,427.86 483.84,426.12 486.00,424.50 C488.16,422.88 490.11,421.65 492.00,420.70 C493.89,419.75 494.88,418.93 496.50,419.20 C498.12,419.47 499.38,421.57 501.00,422.20 C502.62,422.83 503.88,422.43 505.50,422.70 C507.12,422.97 508.65,422.98 510.00,423.70 C511.35,424.42 511.65,424.94 513.00,426.70 C514.35,428.46 515.88,431.74 517.50,433.50 C519.12,435.26 520.38,436.37 522.00,436.50 C523.62,436.63 524.61,435.01 526.50,434.20 C528.39,433.39 531.22,432.43 532.50,432.00 C533.78,431.57 532.75,431.30 533.60,431.80 C534.45,432.30 535.69,434.58 537.20,434.80 C538.71,435.02 540.49,433.76 542.00,433.00 C543.51,432.24 544.30,431.14 545.60,430.60 C546.90,430.06 547.90,430.86 549.20,430.00 C550.50,429.14 551.72,426.66 552.80,425.80 C553.88,424.94 554.01,424.19 555.20,425.20 C556.39,426.21 558.10,431.18 559.40,431.40 C560.70,431.62 561.21,428.27 562.40,426.40 C563.59,424.53 564.70,422.51 566.00,421.00 C567.30,419.49 568.95,418.54 569.60,418.00" fill="none" stroke="#e6cf3a" stroke-width="1.6" stroke-linejoin="round"/>
<path d="M52.70,413.20 C53.65,413.04 55.97,412.37 58.00,412.30 C60.03,412.23 61.84,412.49 64.00,412.80 C66.16,413.11 67.98,413.66 70.00,414.00 C72.02,414.34 74.26,414.57 75.20,414.70" fill="none" stroke="#f01c24" stroke-width="4" stroke-linejoin="round" stroke-linecap="round"/>
<path d="M558.20,418.60 C558.88,418.38 560.60,417.78 562.00,417.40 C563.40,417.02 563.66,417.02 566.00,416.50 C568.34,415.98 571.58,415.13 575.00,414.50 C578.42,413.87 581.04,413.41 585.00,413.00 C588.96,412.59 594.84,412.34 597.00,412.20" fill="none" stroke="#f01c24" stroke-width="4" stroke-linejoin="round" stroke-linecap="round"/>
<path d="M569.60,418.00 C570.39,417.82 572.49,417.31 574.00,417.00 C575.51,416.69 575.48,416.66 578.00,416.30 C580.52,415.94 584.58,415.38 588.00,415.00 C591.42,414.62 595.38,414.34 597.00,414.20" fill="none" stroke="#f01c24" stroke-width="4" stroke-linejoin="round" stroke-linecap="round"/>
<path d="M584.00,417.40 C585.08,417.20 587.66,416.59 590.00,416.30 C592.34,416.01 595.74,415.89 597.00,415.80" fill="none" stroke="#f01c24" stroke-width="4" stroke-linejoin="round" stroke-linecap="round"/>
<circle cx="273.7" cy="417.5" r="2.6" fill="#f01c24"/>
<circle cx="389.3" cy="417.7" r="2.6" fill="#f01c24"/>
<path d="M383.80,206.20 Q387.06,215.38 393.10,221.50 Q383.80,218.44 374.50,221.50 Q380.55,215.38 383.80,206.20 Z" fill="#fbab1c"/>
<path d="M383.80,212.90 Q387.06,222.08 393.10,228.20 Q383.80,225.14 374.50,228.20 Q380.55,222.08 383.80,212.90 Z" fill="#fbab1c"/>
<path d="M383.80,219.60 Q387.06,228.78 393.10,234.90 Q383.80,231.84 374.50,234.90 Q380.55,228.78 383.80,219.60 Z" fill="#fbab1c"/>
<path d="M568.60,188.30 Q571.86,197.54 577.90,203.70 Q568.60,200.62 559.30,203.70 Q565.35,197.54 568.60,188.30 Z" fill="#fbab1c"/>
<path d="M568.60,195.30 Q571.86,204.54 577.90,210.70 Q568.60,207.62 559.30,210.70 Q565.35,204.54 568.60,195.30 Z" fill="#fbab1c"/>
<path d="M568.60,202.30 Q571.86,211.54 577.90,217.70 Q568.60,214.62 559.30,217.70 Q565.35,211.54 568.60,202.30 Z" fill="#fbab1c"/>
<text transform="translate(639.8,145.5) scale(0.935,1)" fill="#b4bed0" font-size="13" font-family="Liberation Serif, serif" text-anchor="start">11k</text>
<text transform="translate(639.8,192.5) scale(0.935,1)" fill="#b4bed0" font-size="13" font-family="Liberation Serif, serif" text-anchor="start">10k</text>
<text transform="translate(639.8,239.5) scale(0.935,1)" fill="#b4bed0" font-size="13" font-family="Liberation Serif, serif" text-anchor="start">9k</text>
<text transform="translate(639.8,274.5) scale(0.935,1)" fill="#b4bed0" font-size="13" font-family="Liberation Serif, serif" text-anchor="start">15M</text>
<text transform="translate(639.8,294.5) scale(0.935,1)" fill="#b4bed0" font-size="13" font-family="Liberation Serif, serif" text-anchor="start">10M</text>
<text transform="translate(639.8,313.5) scale(0.935,1)" fill="#b4bed0" font-size="13" font-family="Liberation Serif, serif" text-anchor="start">5M</text>
<text transform="translate(639.8,333) scale(0.935,1)" fill="#b4bed0" font-size="13" font-family="Liberation Serif, serif" text-anchor="start">0</text>
<text transform="translate(639.8,342.5) scale(0.935,1)" fill="#b4bed0" font-size="13" font-family="Liberation Serif, serif" text-anchor="start">200</text>
<text transform="translate(639.8,369.5) scale(0.935,1)" fill="#b4bed0" font-size="13" font-family="Liberation Serif, serif" text-anchor="start">0</text>
<text transform="translate(639.8,396.5) scale(0.935,1)" fill="#b4bed0" font-size="13" font-family="Liberation Serif, serif" text-anchor="start">−200</text>
<text transform="translate(639.8,416.5) scale(0.935,1)" fill="#b4bed0" font-size="13" font-family="Liberation Serif, serif" text-anchor="start">100</text>
<text transform="translate(639.8,447.5) scale(0.935,1)" fill="#b4bed0" font-size="13" font-family="Liberation Serif, serif" text-anchor="start">50</text>
<text transform="translate(639.8,479.5) scale(0.935,1)" fill="#b4bed0" font-size="13" font-family="Liberation Serif, serif" text-anchor="start">0</text>
<text transform="translate(85.2,496.5) scale(0.935,1)" fill="#b4bed0" font-size="13" font-family="Liberation Serif, serif" text-anchor="middle">2022-11-01</text>
<text transform="translate(187.3,496.5) scale(0.935,1)" fill="#b4bed0" font-size="13" font-family="Liberation Serif, serif" text-anchor="middle">2023-01-03</text>
<text transform="translate(270.5,496.5) scale(0.935,1)" fill="#b4bed0" font-size="13" font-family="Liberation Serif, serif" text-anchor="middle">2023-03-01</text>
<text transform="translate(367.5,496.5) scale(0.935,1)" fill="#b4bed0" font-size="13" font-family="Liberation Serif, serif" text-anchor="middle">2023-05-03</text>
<text transform="translate(459.4,496.5) scale(0.935,1)" fill="#b4bed0" font-size="13" font-family="Liberation Serif, serif" text-anchor="middle">2023-07-03</text>
<text transform="translate(561.3,496.5) scale(0.935,1)" fill="#b4bed0" font-size="13" font-family="Liberation Serif, serif" text-anchor="middle">2023-09-01</text>
<text x="0" y="0" transform="translate(681,176.5) rotate(-90)" fill="#b4bed0" font-size="10" font-family="Liberation Serif, Noto Sans CJK SC, serif" text-anchor="middle">股价</text>
<text x="0" y="0" transform="translate(685,291.8) rotate(-90)" fill="#b4bed0" font-size="10" font-family="Liberation Serif, Noto Sans CJK SC, serif" text-anchor="middle">成交量</text>
<text x="0" y="0" transform="translate(685.8,367.7) rotate(-90)" fill="#b4bed0" font-size="10" font-family="Liberation Serif, Noto Sans CJK SC, serif" text-anchor="middle">close-macd</text>
<text x="0" y="0" transform="translate(679,444.5) rotate(-90)" fill="#b4bed0" font-size="10" font-family="Liberation Serif, Noto Sans CJK SC, serif" text-anchor="middle">RPS</text>
</svg>
<div class="t cj" style="left:78.5px;top:17.8px;font-size:13px;font-weight:bold;color:#fff">排名：6</div>
<div class="t cj" style="left:142.5px;top:17.8px;font-size:13px;font-weight:bold;color:#fff">涨幅：<span style="color:#22cc2a;font-weight:normal;font-size:12.6px;margin-left:-3px;-webkit-text-stroke:0.25px #22cc2a">-0.68%</span></div>
<div class="t cj" style="left:244.5px;top:17.8px;font-size:13px;font-weight:bold;color:#fff">成交额：<span style="font-weight:normal;font-size:12px;letter-spacing:-0.2px;-webkit-text-stroke:0.3px #fff">88.80</span>亿</div>
<div class="t sf" style="left:404px;top:10px;font-size:13px;color:#fff;-webkit-text-stroke:0.35px #fff">RPS 05,10,20 = 7，94，97</div>
<div class="t sf" style="left:404px;top:25px;font-size:13px;color:#fff;-webkit-text-stroke:0.35px #fff">RPS 50,120,250 = 98，90，13</div>
<div class="t cj" style="left:7px;top:56.7px;font-size:15px;color:#fff">煤炭行业</div>
<svg width="700" height="110" style="position:absolute;left:0;top:0">
<line x1="82" y1="57.2" x2="89" y2="57.2" stroke="#b8607e" stroke-width="1"/>
<line x1="106" y1="57.2" x2="112" y2="57.2" stroke="#5aaab0" stroke-width="1"/>
<polygon points="89,50.8 106,50.8 89,63.8" fill="#f24b61"/>
<polygon points="106,50.8 106,63.8 89,63.8" fill="#49d3b4"/>
<line x1="190.6" y1="57" x2="220.6" y2="57" stroke="#1d6a74" stroke-width="1"/>
<text transform="translate(226.39999999999998,62.1) scale(0.925,1)" fill="#aab4c6" font-size="13" font-family="Liberation Serif, serif">ma05</text>
<line x1="299.2" y1="57" x2="329.2" y2="57" stroke="#8c8040" stroke-width="1"/>
<text transform="translate(335.0,62.1) scale(0.925,1)" fill="#aab4c6" font-size="13" font-family="Liberation Serif, serif">ma10</text>
<line x1="407.8" y1="57" x2="437.8" y2="57" stroke="#9a4a8a" stroke-width="1"/>
<text transform="translate(443.6,62.1) scale(0.925,1)" fill="#aab4c6" font-size="13" font-family="Liberation Serif, serif">ma20</text>
<line x1="516.4" y1="57" x2="546.4" y2="57" stroke="#2a8a6a" stroke-width="1"/>
<text transform="translate(552.1999999999999,62.1) scale(0.925,1)" fill="#aab4c6" font-size="13" font-family="Liberation Serif, serif">ma50</text>
<line x1="625" y1="57" x2="655" y2="57" stroke="#2f6aaa" stroke-width="1.5"/>
<text transform="translate(660.8,62.1) scale(0.925,1)" fill="#aab4c6" font-size="13" font-family="Liberation Serif, serif">ma120</text>
<line x1="82" y1="76.5" x2="112" y2="76.5" stroke="#7a6e78" stroke-width="1.5"/>
<text transform="translate(117.8,81.6) scale(0.925,1)" fill="#aab4c6" font-size="13" font-family="Liberation Serif, serif">ma250</text>
<line x1="190.6" y1="76.5" x2="220.6" y2="76.5" stroke="#f2d23a" stroke-width="3"/>
<circle cx="205.6" cy="76.5" r="1.9" fill="#f2d23a" stroke="#fff" stroke-opacity="0.35" stroke-width="0.6"/>
<text transform="translate(226.39999999999998,81.6) scale(0.925,1)" fill="#aab4c6" font-size="13" font-family="Liberation Serif, serif">volume_ema</text>
<line x1="299.2" y1="76.5" x2="329.2" y2="76.5" stroke="#1d5a6a" stroke-width="1"/>
<text transform="translate(335.0,81.6) scale(0.925,1)" fill="#aab4c6" font-size="13" font-family="Liberation Serif, serif">DIF</text>
<line x1="407.8" y1="76.5" x2="437.8" y2="76.5" stroke="#7a7a50" stroke-width="1"/>
<text transform="translate(443.6,81.6) scale(0.925,1)" fill="#aab4c6" font-size="13" font-family="Liberation Serif, serif">DEA</text>
<path d="M531.9,64.5 Q533.9,74.7 541.4,81.5 Q531.9,76.74 522.4,81.5 Q529.9,74.7 531.9,64.5 Z" fill="#f5a524"/>
<text transform="translate(552.1999999999999,81.6) scale(0.925,1)" fill="#aab4c6" font-size="13" font-family="Liberation Serif, serif">buy</text>
<line x1="625" y1="76.5" x2="655" y2="76.5" stroke="#1a8a8a" stroke-width="1.5"/>
<circle cx="640" cy="76.5" r="1.15" fill="#1a8a8a" stroke="#fff" stroke-opacity="0.35" stroke-width="0.6"/>
<text transform="translate(660.8,81.6) scale(0.925,1)" fill="#aab4c6" font-size="13" font-family="Liberation Serif, serif">rps10</text>
<line x1="82" y1="95.5" x2="112" y2="95.5" stroke="#d8c02a" stroke-width="1.5"/>
<circle cx="97" cy="95.5" r="1.15" fill="#d8c02a" stroke="#fff" stroke-opacity="0.35" stroke-width="0.6"/>
<text transform="translate(117.8,100.6) scale(0.925,1)" fill="#aab4c6" font-size="13" font-family="Liberation Serif, serif">rps20</text>
<line x1="190.6" y1="95.5" x2="220.6" y2="95.5" stroke="#c040b0" stroke-width="1.5"/>
<circle cx="205.6" cy="95.5" r="1.15" fill="#c040b0" stroke="#fff" stroke-opacity="0.35" stroke-width="0.6"/>
<text transform="translate(226.39999999999998,100.6) scale(0.925,1)" fill="#aab4c6" font-size="13" font-family="Liberation Serif, serif">rps50</text>
</svg>
</body></html>
